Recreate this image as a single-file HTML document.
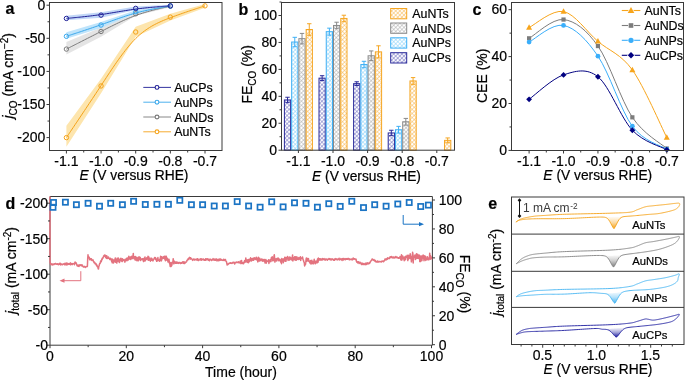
<!DOCTYPE html>
<html><head><meta charset="utf-8"><style>
html,body{margin:0;padding:0;background:#fff;width:685px;height:380px;overflow:hidden}
svg{display:block;font-family:"Liberation Sans", sans-serif;will-change:transform}
text{stroke:#000;stroke-width:0.2px}
</style></head><body>
<svg width="685" height="380" viewBox="0 0 685 380">
<defs>
<pattern id="hatCP" width="2.9" height="2.9" patternUnits="userSpaceOnUse" patternTransform="rotate(45)"><rect width="2.9" height="2.9" fill="#fff"/><path d="M0,0 H2.9 M0,0 V2.9" stroke="#3838a8" stroke-width="1.1" opacity="0.72"/></pattern>
<pattern id="hatNP" width="2.9" height="2.9" patternUnits="userSpaceOnUse" patternTransform="rotate(45)"><rect width="2.9" height="2.9" fill="#fff"/><path d="M0,0 H2.9 M0,0 V2.9" stroke="#55bdf7" stroke-width="1.1" opacity="0.72"/></pattern>
<pattern id="hatND" width="2.9" height="2.9" patternUnits="userSpaceOnUse" patternTransform="rotate(45)"><rect width="2.9" height="2.9" fill="#fff"/><path d="M0,0 H2.9 M0,0 V2.9" stroke="#999" stroke-width="1.1" opacity="0.8"/></pattern>
<pattern id="hatNT" width="2.9" height="2.9" patternUnits="userSpaceOnUse" patternTransform="rotate(45)"><rect width="2.9" height="2.9" fill="#fff"/><path d="M0,0 H2.9 M0,0 V2.9" stroke="#f7b040" stroke-width="1.1" opacity="0.9"/></pattern>
</defs>
<polygon points="66.4,125.68 101.05,78.68 135.7,26.71 170.35,13.81 205,3.88 205,7.85 170.35,20.43 135.7,36.65 101.05,93.25 66.4,146.87" fill="#fde5ad" />
<polygon points="66.4,42.07 101.05,27.38 135.7,11.82 170.35,5.2 170.35,7.19 135.7,15.79 101.05,36.78 66.4,54.59" fill="#e4e4e4" />
<polygon points="66.4,32.14 101.05,22.08 135.7,10.16 170.35,5.2 170.35,6.79 135.7,13.48 101.05,28.04 66.4,38.7" fill="#bfe4fb" />
<polygon points="66.4,15.79 101.05,12.35 135.7,6.39 170.35,4.87 170.35,6.86 135.7,10.03 101.05,17.78 66.4,20.16" fill="#c2d7f7" />
<path d="M66.4,137.6 L66.4,137.6 L66.41,137.59 L66.42,137.57 L66.45,137.53 L66.49,137.47 L66.56,137.37 L66.65,137.23 L66.77,137.05 L66.93,136.82 L67.12,136.52 L67.36,136.17 L67.65,135.74 L67.99,135.24 L68.38,134.65 L68.84,133.97 L69.36,133.19 L69.95,132.31 L70.61,131.33 L71.35,130.22 L72.17,128.99 L73.08,127.64 L74.07,126.16 L75.14,124.57 L76.29,122.86 L77.5,121.05 L78.78,119.15 L80.11,117.15 L81.51,115.06 L82.95,112.9 L84.45,110.66 L85.98,108.35 L87.56,105.98 L89.17,103.56 L90.81,101.09 L92.48,98.58 L94.17,96.02 L95.87,93.44 L97.59,90.84 L99.32,88.21 L101.05,85.58 L102.78,82.94 L104.52,80.29 L106.25,77.66 L107.98,75.03 L109.71,72.41 L111.45,69.82 L113.18,67.25 L114.91,64.72 L116.64,62.21 L118.38,59.75 L120.11,57.34 L121.84,54.97 L123.57,52.67 L125.31,50.42 L127.04,48.24 L128.77,46.13 L130.5,44.1 L132.24,42.15 L133.97,40.29 L135.7,38.52 L137.43,36.85 L139.17,35.27 L140.9,33.78 L142.63,32.37 L144.36,31.04 L146.1,29.79 L147.83,28.61 L149.56,27.5 L151.29,26.45 L153.03,25.45 L154.76,24.51 L156.49,23.62 L158.22,22.78 L159.96,21.97 L161.69,21.2 L163.42,20.46 L165.15,19.74 L166.89,19.05 L168.62,18.38 L170.35,17.72 L172.08,17.07 L173.81,16.43 L175.53,15.81 L177.23,15.19 L178.92,14.59 L180.59,14 L182.23,13.42 L183.84,12.87 L185.42,12.32 L186.95,11.8 L188.45,11.29 L189.89,10.81 L191.29,10.34 L192.62,9.9 L193.9,9.48 L195.11,9.08 L196.26,8.7 L197.33,8.36 L198.32,8.03 L199.23,7.74 L200.05,7.47 L200.79,7.23 L201.45,7.01 L202.04,6.82 L202.56,6.65 L203.02,6.51 L203.41,6.38 L203.75,6.27 L204.04,6.17 L204.28,6.1 L204.47,6.03 L204.63,5.98 L204.75,5.94 L204.84,5.91 L204.91,5.89 L204.95,5.88 L204.98,5.87 L204.99,5.86 L205,5.86 L205,5.86" fill="none" stroke="#f5a31a" stroke-width="1"/>
<circle cx="66.4" cy="137.6" r="2.2" fill="none" stroke="#f5a31a" stroke-width="1"/>
<circle cx="101.05" cy="85.96" r="2.2" fill="none" stroke="#f5a31a" stroke-width="1"/>
<circle cx="135.7" cy="32.01" r="2.2" fill="none" stroke="#f5a31a" stroke-width="1"/>
<circle cx="170.35" cy="17.12" r="2.2" fill="none" stroke="#f5a31a" stroke-width="1"/>
<circle cx="205" cy="5.86" r="2.2" fill="none" stroke="#f5a31a" stroke-width="1"/>
<path d="M66.4,49.09 L66.4,49.09 L66.41,49.09 L66.42,49.08 L66.45,49.07 L66.49,49.04 L66.56,49.01 L66.65,48.96 L66.77,48.9 L66.93,48.82 L67.12,48.72 L67.36,48.6 L67.65,48.46 L67.99,48.28 L68.38,48.08 L68.84,47.85 L69.36,47.59 L69.95,47.29 L70.61,46.95 L71.35,46.57 L72.17,46.16 L73.08,45.69 L74.07,45.19 L75.14,44.65 L76.29,44.07 L77.5,43.45 L78.78,42.8 L80.11,42.12 L81.51,41.41 L82.95,40.68 L84.45,39.92 L85.98,39.14 L87.56,38.33 L89.17,37.52 L90.81,36.68 L92.48,35.83 L94.17,34.97 L95.87,34.11 L97.59,33.23 L99.32,32.35 L101.05,31.47 L102.78,30.59 L104.52,29.71 L106.25,28.83 L107.98,27.95 L109.71,27.08 L111.45,26.22 L113.18,25.36 L114.91,24.52 L116.64,23.68 L118.38,22.85 L120.11,22.04 L121.84,21.24 L123.57,20.45 L125.31,19.68 L127.04,18.93 L128.77,18.2 L130.5,17.49 L132.24,16.8 L133.97,16.13 L135.7,15.48 L137.43,14.86 L139.16,14.27 L140.88,13.7 L142.58,13.15 L144.27,12.63 L145.94,12.13 L147.58,11.66 L149.19,11.2 L150.77,10.77 L152.3,10.37 L153.8,9.98 L155.24,9.62 L156.64,9.28 L157.97,8.96 L159.25,8.66 L160.46,8.38 L161.61,8.12 L162.68,7.88 L163.67,7.66 L164.58,7.46 L165.4,7.28 L166.14,7.12 L166.8,6.97 L167.39,6.84 L167.91,6.73 L168.37,6.63 L168.76,6.54 L169.1,6.47 L169.39,6.4 L169.63,6.35 L169.82,6.31 L169.98,6.27 L170.1,6.25 L170.19,6.23 L170.26,6.21 L170.3,6.2 L170.33,6.2 L170.34,6.19 L170.35,6.19 L170.35,6.19" fill="none" stroke="#7a7a7a" stroke-width="1"/>
<circle cx="66.4" cy="49.09" r="2.2" fill="none" stroke="#7a7a7a" stroke-width="1"/>
<circle cx="101.05" cy="31.48" r="2.2" fill="none" stroke="#7a7a7a" stroke-width="1"/>
<circle cx="135.7" cy="13.81" r="2.2" fill="none" stroke="#7a7a7a" stroke-width="1"/>
<circle cx="170.35" cy="6.19" r="2.2" fill="none" stroke="#7a7a7a" stroke-width="1"/>
<path d="M66.4,36.31 L66.4,36.31 L66.41,36.31 L66.42,36.31 L66.45,36.3 L66.49,36.28 L66.56,36.26 L66.65,36.23 L66.77,36.19 L66.93,36.14 L67.12,36.08 L67.36,36 L67.65,35.91 L67.99,35.8 L68.38,35.67 L68.84,35.52 L69.36,35.35 L69.95,35.16 L70.61,34.95 L71.35,34.71 L72.17,34.44 L73.08,34.14 L74.07,33.82 L75.14,33.47 L76.29,33.1 L77.5,32.7 L78.78,32.29 L80.11,31.85 L81.51,31.39 L82.95,30.91 L84.45,30.41 L85.98,29.9 L87.56,29.37 L89.17,28.83 L90.81,28.27 L92.48,27.7 L94.17,27.13 L95.87,26.54 L97.59,25.94 L99.32,25.34 L101.05,24.73 L102.78,24.11 L104.52,23.5 L106.25,22.87 L107.98,22.25 L109.71,21.63 L111.45,21.01 L113.18,20.39 L114.91,19.77 L116.64,19.16 L118.38,18.55 L120.11,17.95 L121.84,17.36 L123.57,16.78 L125.31,16.21 L127.04,15.65 L128.77,15.1 L130.5,14.56 L132.24,14.04 L133.97,13.54 L135.7,13.06 L137.43,12.59 L139.16,12.14 L140.88,11.71 L142.58,11.3 L144.27,10.9 L145.94,10.52 L147.58,10.16 L149.19,9.82 L150.77,9.49 L152.3,9.18 L153.8,8.89 L155.24,8.61 L156.64,8.35 L157.97,8.11 L159.25,7.88 L160.46,7.67 L161.61,7.47 L162.68,7.29 L163.67,7.12 L164.58,6.97 L165.4,6.83 L166.14,6.7 L166.8,6.59 L167.39,6.49 L167.91,6.4 L168.37,6.33 L168.76,6.26 L169.1,6.2 L169.39,6.16 L169.63,6.12 L169.82,6.08 L169.98,6.06 L170.1,6.04 L170.19,6.02 L170.26,6.01 L170.3,6 L170.33,6 L170.34,6 L170.35,5.99 L170.35,5.99" fill="none" stroke="#3aa8ec" stroke-width="1"/>
<circle cx="66.4" cy="36.31" r="2.2" fill="none" stroke="#3aa8ec" stroke-width="1"/>
<circle cx="101.05" cy="25.06" r="2.2" fill="none" stroke="#3aa8ec" stroke-width="1"/>
<circle cx="135.7" cy="11.82" r="2.2" fill="none" stroke="#3aa8ec" stroke-width="1"/>
<circle cx="170.35" cy="5.99" r="2.2" fill="none" stroke="#3aa8ec" stroke-width="1"/>
<path d="M66.4,18.44 L66.4,18.44 L66.41,18.44 L66.42,18.44 L66.45,18.44 L66.49,18.43 L66.56,18.43 L66.65,18.42 L66.77,18.4 L66.93,18.39 L67.12,18.37 L67.36,18.35 L67.65,18.32 L67.99,18.29 L68.38,18.25 L68.84,18.21 L69.36,18.16 L69.95,18.1 L70.61,18.04 L71.35,17.97 L72.17,17.89 L73.08,17.8 L74.07,17.71 L75.14,17.6 L76.29,17.49 L77.5,17.37 L78.78,17.24 L80.11,17.11 L81.51,16.96 L82.95,16.81 L84.45,16.64 L85.98,16.47 L87.56,16.29 L89.17,16.11 L90.81,15.91 L92.48,15.71 L94.17,15.49 L95.87,15.27 L97.59,15.04 L99.32,14.8 L101.05,14.56 L102.78,14.3 L104.52,14.04 L106.25,13.77 L107.98,13.49 L109.71,13.21 L111.45,12.93 L113.18,12.64 L114.91,12.35 L116.64,12.06 L118.38,11.77 L120.11,11.48 L121.84,11.19 L123.57,10.91 L125.31,10.63 L127.04,10.35 L128.77,10.09 L130.5,9.82 L132.24,9.57 L133.97,9.32 L135.7,9.08 L137.43,8.86 L139.16,8.64 L140.88,8.44 L142.58,8.24 L144.27,8.05 L145.94,7.88 L147.58,7.71 L149.19,7.55 L150.77,7.4 L152.3,7.26 L153.8,7.13 L155.24,7 L156.64,6.89 L157.97,6.78 L159.25,6.68 L160.46,6.59 L161.61,6.5 L162.68,6.42 L163.67,6.35 L164.58,6.28 L165.4,6.22 L166.14,6.17 L166.8,6.12 L167.39,6.08 L167.91,6.04 L168.37,6.01 L168.76,5.98 L169.1,5.95 L169.39,5.93 L169.63,5.91 L169.82,5.9 L169.98,5.89 L170.1,5.88 L170.19,5.87 L170.26,5.87 L170.3,5.87 L170.33,5.86 L170.34,5.86 L170.35,5.86 L170.35,5.86" fill="none" stroke="#1e1e96" stroke-width="1"/>
<circle cx="66.4" cy="18.44" r="2.2" fill="none" stroke="#1e1e96" stroke-width="1"/>
<circle cx="101.05" cy="15.13" r="2.2" fill="none" stroke="#1e1e96" stroke-width="1"/>
<circle cx="135.7" cy="8.38" r="2.2" fill="none" stroke="#1e1e96" stroke-width="1"/>
<circle cx="170.35" cy="5.86" r="2.2" fill="none" stroke="#1e1e96" stroke-width="1"/>
<rect x="49.5" y="2.5" width="172.5" height="148" fill="none" stroke="#3a3a3a" stroke-width="1"/>
<line x1="46.5" y1="5.2" x2="49.5" y2="5.2" stroke="#3a3a3a"/>
<text x="45.4" y="9.9" font-size="14" text-anchor="end" font-weight="normal" fill="#000" >0</text>
<line x1="46.5" y1="38.3" x2="49.5" y2="38.3" stroke="#3a3a3a"/>
<text x="45.4" y="43" font-size="14" text-anchor="end" font-weight="normal" fill="#000" >-50</text>
<line x1="46.5" y1="71.4" x2="49.5" y2="71.4" stroke="#3a3a3a"/>
<text x="45.4" y="76.1" font-size="14" text-anchor="end" font-weight="normal" fill="#000" >-100</text>
<line x1="46.5" y1="104.5" x2="49.5" y2="104.5" stroke="#3a3a3a"/>
<text x="45.4" y="109.2" font-size="14" text-anchor="end" font-weight="normal" fill="#000" >-150</text>
<line x1="46.5" y1="137.6" x2="49.5" y2="137.6" stroke="#3a3a3a"/>
<text x="45.4" y="142.3" font-size="14" text-anchor="end" font-weight="normal" fill="#000" >-200</text>
<line x1="47.5" y1="21.75" x2="49.5" y2="21.75" stroke="#3a3a3a"/>
<line x1="47.5" y1="54.85" x2="49.5" y2="54.85" stroke="#3a3a3a"/>
<line x1="47.5" y1="87.95" x2="49.5" y2="87.95" stroke="#3a3a3a"/>
<line x1="47.5" y1="121.05" x2="49.5" y2="121.05" stroke="#3a3a3a"/>
<line x1="66.4" y1="150.5" x2="66.4" y2="153.5" stroke="#3a3a3a"/>
<text x="66.4" y="166.4" font-size="14" text-anchor="middle" font-weight="normal" fill="#000" >-1.1</text>
<line x1="101.05" y1="150.5" x2="101.05" y2="153.5" stroke="#3a3a3a"/>
<text x="101.05" y="166.4" font-size="14" text-anchor="middle" font-weight="normal" fill="#000" >-1.0</text>
<line x1="135.7" y1="150.5" x2="135.7" y2="153.5" stroke="#3a3a3a"/>
<text x="135.7" y="166.4" font-size="14" text-anchor="middle" font-weight="normal" fill="#000" >-0.9</text>
<line x1="170.35" y1="150.5" x2="170.35" y2="153.5" stroke="#3a3a3a"/>
<text x="170.35" y="166.4" font-size="14" text-anchor="middle" font-weight="normal" fill="#000" >-0.8</text>
<line x1="205" y1="150.5" x2="205" y2="153.5" stroke="#3a3a3a"/>
<text x="205" y="166.4" font-size="14" text-anchor="middle" font-weight="normal" fill="#000" >-0.7</text>
<line x1="83.73" y1="150.5" x2="83.73" y2="152.5" stroke="#3a3a3a"/>
<line x1="118.38" y1="150.5" x2="118.38" y2="152.5" stroke="#3a3a3a"/>
<line x1="153.03" y1="150.5" x2="153.03" y2="152.5" stroke="#3a3a3a"/>
<line x1="187.68" y1="150.5" x2="187.68" y2="152.5" stroke="#3a3a3a"/>
<text x="134" y="180.4" font-size="13.8" text-anchor="middle" font-weight="normal" fill="#000" ><tspan font-style="italic">E</tspan> (V versus RHE)</text>
<text transform="translate(12.9,75.8) rotate(-90)" font-size="14" text-anchor="middle"><tspan font-style="italic">j</tspan><tspan font-size="10" dy="3.8">CO</tspan><tspan dy="-3.8"> (mA cm</tspan><tspan font-size="10" dy="-5">−2</tspan><tspan dy="5">)</tspan></text>
<text x="5.5" y="14.2" font-size="16" text-anchor="start" font-weight="bold" fill="#000" >a</text>
<line x1="143.3" y1="87.4" x2="171" y2="87.4" stroke="#1e1e96" stroke-width="0.9"/>
<circle cx="157" cy="87.4" r="1.9" fill="#fff" stroke="#1e1e96" stroke-width="1.1"/>
<text x="174.2" y="91.9" font-size="12.4" text-anchor="start" font-weight="normal" fill="#000" >AuCPs</text>
<line x1="143.3" y1="102.2" x2="171" y2="102.2" stroke="#3aa8ec" stroke-width="0.9"/>
<circle cx="157" cy="102.2" r="1.9" fill="#fff" stroke="#3aa8ec" stroke-width="1.1"/>
<text x="174.2" y="106.7" font-size="12.4" text-anchor="start" font-weight="normal" fill="#000" >AuNPs</text>
<line x1="143.3" y1="117" x2="171" y2="117" stroke="#7a7a7a" stroke-width="0.9"/>
<circle cx="157" cy="117" r="1.9" fill="#fff" stroke="#7a7a7a" stroke-width="1.1"/>
<text x="174.2" y="121.5" font-size="12.4" text-anchor="start" font-weight="normal" fill="#000" >AuNDs</text>
<line x1="143.3" y1="131.8" x2="171" y2="131.8" stroke="#f5a31a" stroke-width="0.9"/>
<circle cx="157" cy="131.8" r="1.9" fill="#fff" stroke="#f5a31a" stroke-width="1.1"/>
<text x="174.2" y="136.3" font-size="12.4" text-anchor="start" font-weight="normal" fill="#000" >AuNTs</text>
<rect x="284.4" y="99.96" width="6.25" height="50.24" fill="url(#hatCP)" stroke="#2a2a9a" stroke-width="1"/>
<line x1="287.52" y1="97.26" x2="287.52" y2="102.65" stroke="#2a2a9a" stroke-width="1"/>
<line x1="285.32" y1="97.26" x2="289.72" y2="97.26" stroke="#2a2a9a" stroke-width="1"/>
<line x1="285.32" y1="102.65" x2="289.72" y2="102.65" stroke="#2a2a9a" stroke-width="1"/>
<rect x="291.65" y="42.04" width="6.25" height="108.16" fill="url(#hatNP)" stroke="#3fb0f5" stroke-width="1"/>
<line x1="294.77" y1="37.32" x2="294.77" y2="46.75" stroke="#3fb0f5" stroke-width="1"/>
<line x1="292.57" y1="37.32" x2="296.97" y2="37.32" stroke="#3fb0f5" stroke-width="1"/>
<line x1="292.57" y1="46.75" x2="296.97" y2="46.75" stroke="#3fb0f5" stroke-width="1"/>
<rect x="298.9" y="38.67" width="6.25" height="111.53" fill="url(#hatND)" stroke="#8a8a8a" stroke-width="1"/>
<line x1="302.02" y1="33.42" x2="302.02" y2="43.92" stroke="#8a8a8a" stroke-width="1"/>
<line x1="299.82" y1="33.42" x2="304.22" y2="33.42" stroke="#8a8a8a" stroke-width="1"/>
<line x1="299.82" y1="43.92" x2="304.22" y2="43.92" stroke="#8a8a8a" stroke-width="1"/>
<rect x="306.15" y="29.51" width="6.25" height="120.69" fill="url(#hatNT)" stroke="#f5a623" stroke-width="1"/>
<line x1="309.27" y1="23.72" x2="309.27" y2="35.3" stroke="#f5a623" stroke-width="1"/>
<line x1="307.07" y1="23.72" x2="311.47" y2="23.72" stroke="#f5a623" stroke-width="1"/>
<line x1="307.07" y1="35.3" x2="311.47" y2="35.3" stroke="#f5a623" stroke-width="1"/>
<rect x="319" y="78.14" width="6.25" height="72.06" fill="url(#hatCP)" stroke="#2a2a9a" stroke-width="1"/>
<line x1="322.12" y1="75.71" x2="322.12" y2="80.56" stroke="#2a2a9a" stroke-width="1"/>
<line x1="319.93" y1="75.71" x2="324.32" y2="75.71" stroke="#2a2a9a" stroke-width="1"/>
<line x1="319.93" y1="80.56" x2="324.32" y2="80.56" stroke="#2a2a9a" stroke-width="1"/>
<rect x="326.25" y="31.66" width="6.25" height="118.54" fill="url(#hatNP)" stroke="#3fb0f5" stroke-width="1"/>
<line x1="329.38" y1="28.16" x2="329.38" y2="35.17" stroke="#3fb0f5" stroke-width="1"/>
<line x1="327.18" y1="28.16" x2="331.57" y2="28.16" stroke="#3fb0f5" stroke-width="1"/>
<line x1="327.18" y1="35.17" x2="331.57" y2="35.17" stroke="#3fb0f5" stroke-width="1"/>
<rect x="333.5" y="25.47" width="6.25" height="124.73" fill="url(#hatND)" stroke="#8a8a8a" stroke-width="1"/>
<line x1="336.62" y1="22.23" x2="336.62" y2="28.7" stroke="#8a8a8a" stroke-width="1"/>
<line x1="334.43" y1="22.23" x2="338.82" y2="22.23" stroke="#8a8a8a" stroke-width="1"/>
<line x1="334.43" y1="28.7" x2="338.82" y2="28.7" stroke="#8a8a8a" stroke-width="1"/>
<rect x="340.75" y="18.46" width="6.25" height="131.74" fill="url(#hatNT)" stroke="#f5a623" stroke-width="1"/>
<line x1="343.88" y1="15.23" x2="343.88" y2="21.7" stroke="#f5a623" stroke-width="1"/>
<line x1="341.68" y1="15.23" x2="346.07" y2="15.23" stroke="#f5a623" stroke-width="1"/>
<line x1="341.68" y1="21.7" x2="346.07" y2="21.7" stroke="#f5a623" stroke-width="1"/>
<rect x="353.6" y="83.66" width="6.25" height="66.54" fill="url(#hatCP)" stroke="#2a2a9a" stroke-width="1"/>
<line x1="356.73" y1="81.77" x2="356.73" y2="85.54" stroke="#2a2a9a" stroke-width="1"/>
<line x1="354.53" y1="81.77" x2="358.93" y2="81.77" stroke="#2a2a9a" stroke-width="1"/>
<line x1="354.53" y1="85.54" x2="358.93" y2="85.54" stroke="#2a2a9a" stroke-width="1"/>
<rect x="360.85" y="64.53" width="6.25" height="85.67" fill="url(#hatNP)" stroke="#3fb0f5" stroke-width="1"/>
<line x1="363.98" y1="61.3" x2="363.98" y2="67.76" stroke="#3fb0f5" stroke-width="1"/>
<line x1="361.78" y1="61.3" x2="366.18" y2="61.3" stroke="#3fb0f5" stroke-width="1"/>
<line x1="361.78" y1="67.76" x2="366.18" y2="67.76" stroke="#3fb0f5" stroke-width="1"/>
<rect x="368.1" y="55.78" width="6.25" height="94.42" fill="url(#hatND)" stroke="#8a8a8a" stroke-width="1"/>
<line x1="371.23" y1="50.93" x2="371.23" y2="60.62" stroke="#8a8a8a" stroke-width="1"/>
<line x1="369.03" y1="50.93" x2="373.43" y2="50.93" stroke="#8a8a8a" stroke-width="1"/>
<line x1="369.03" y1="60.62" x2="373.43" y2="60.62" stroke="#8a8a8a" stroke-width="1"/>
<rect x="375.35" y="51.87" width="6.25" height="98.33" fill="url(#hatNT)" stroke="#f5a623" stroke-width="1"/>
<line x1="378.48" y1="45.81" x2="378.48" y2="57.93" stroke="#f5a623" stroke-width="1"/>
<line x1="376.28" y1="45.81" x2="380.68" y2="45.81" stroke="#f5a623" stroke-width="1"/>
<line x1="376.28" y1="57.93" x2="380.68" y2="57.93" stroke="#f5a623" stroke-width="1"/>
<rect x="388.2" y="132.96" width="6.25" height="17.24" fill="url(#hatCP)" stroke="#2a2a9a" stroke-width="1"/>
<line x1="391.32" y1="130.26" x2="391.32" y2="135.65" stroke="#2a2a9a" stroke-width="1"/>
<line x1="389.12" y1="130.26" x2="393.52" y2="130.26" stroke="#2a2a9a" stroke-width="1"/>
<line x1="389.12" y1="135.65" x2="393.52" y2="135.65" stroke="#2a2a9a" stroke-width="1"/>
<rect x="395.45" y="129.73" width="6.25" height="20.47" fill="url(#hatNP)" stroke="#3fb0f5" stroke-width="1"/>
<line x1="398.57" y1="126.36" x2="398.57" y2="133.09" stroke="#3fb0f5" stroke-width="1"/>
<line x1="396.38" y1="126.36" x2="400.77" y2="126.36" stroke="#3fb0f5" stroke-width="1"/>
<line x1="396.38" y1="133.09" x2="400.77" y2="133.09" stroke="#3fb0f5" stroke-width="1"/>
<rect x="402.7" y="121.78" width="6.25" height="28.42" fill="url(#hatND)" stroke="#8a8a8a" stroke-width="1"/>
<line x1="405.82" y1="118.41" x2="405.82" y2="125.15" stroke="#8a8a8a" stroke-width="1"/>
<line x1="403.62" y1="118.41" x2="408.02" y2="118.41" stroke="#8a8a8a" stroke-width="1"/>
<line x1="403.62" y1="125.15" x2="408.02" y2="125.15" stroke="#8a8a8a" stroke-width="1"/>
<rect x="409.95" y="80.96" width="6.25" height="69.24" fill="url(#hatNT)" stroke="#f5a623" stroke-width="1"/>
<line x1="413.07" y1="77.6" x2="413.07" y2="84.33" stroke="#f5a623" stroke-width="1"/>
<line x1="410.88" y1="77.6" x2="415.27" y2="77.6" stroke="#f5a623" stroke-width="1"/>
<line x1="410.88" y1="84.33" x2="415.27" y2="84.33" stroke="#f5a623" stroke-width="1"/>
<rect x="444.55" y="140.37" width="6.25" height="9.83" fill="url(#hatNT)" stroke="#f5a623" stroke-width="1"/>
<line x1="447.68" y1="137.94" x2="447.68" y2="142.79" stroke="#f5a623" stroke-width="1"/>
<line x1="445.48" y1="137.94" x2="449.88" y2="137.94" stroke="#f5a623" stroke-width="1"/>
<line x1="445.48" y1="142.79" x2="449.88" y2="142.79" stroke="#f5a623" stroke-width="1"/>
<rect x="281.5" y="2.5" width="173" height="147.7" fill="none" stroke="#3a3a3a" stroke-width="1"/>
<line x1="278.5" y1="150.2" x2="281.5" y2="150.2" stroke="#3a3a3a"/>
<text x="277.1" y="154.8" font-size="14" text-anchor="end" font-weight="normal" fill="#000" >0</text>
<line x1="278.5" y1="123.26" x2="281.5" y2="123.26" stroke="#3a3a3a"/>
<text x="277.1" y="127.86" font-size="14" text-anchor="end" font-weight="normal" fill="#000" >20</text>
<line x1="278.5" y1="96.32" x2="281.5" y2="96.32" stroke="#3a3a3a"/>
<text x="277.1" y="100.92" font-size="14" text-anchor="end" font-weight="normal" fill="#000" >40</text>
<line x1="278.5" y1="69.38" x2="281.5" y2="69.38" stroke="#3a3a3a"/>
<text x="277.1" y="73.98" font-size="14" text-anchor="end" font-weight="normal" fill="#000" >60</text>
<line x1="278.5" y1="42.44" x2="281.5" y2="42.44" stroke="#3a3a3a"/>
<text x="277.1" y="47.04" font-size="14" text-anchor="end" font-weight="normal" fill="#000" >80</text>
<line x1="278.5" y1="15.5" x2="281.5" y2="15.5" stroke="#3a3a3a"/>
<text x="277.1" y="20.1" font-size="14" text-anchor="end" font-weight="normal" fill="#000" >100</text>
<line x1="279.5" y1="136.73" x2="281.5" y2="136.73" stroke="#3a3a3a"/>
<line x1="279.5" y1="109.79" x2="281.5" y2="109.79" stroke="#3a3a3a"/>
<line x1="279.5" y1="82.85" x2="281.5" y2="82.85" stroke="#3a3a3a"/>
<line x1="279.5" y1="55.91" x2="281.5" y2="55.91" stroke="#3a3a3a"/>
<line x1="279.5" y1="28.97" x2="281.5" y2="28.97" stroke="#3a3a3a"/>
<line x1="279.5" y1="2.03" x2="281.5" y2="2.03" stroke="#3a3a3a"/>
<line x1="298.4" y1="150.2" x2="298.4" y2="153" stroke="#3a3a3a"/>
<text x="298.4" y="166.2" font-size="14" text-anchor="middle" font-weight="normal" fill="#000" >-1.1</text>
<line x1="333" y1="150.2" x2="333" y2="153" stroke="#3a3a3a"/>
<text x="333" y="166.2" font-size="14" text-anchor="middle" font-weight="normal" fill="#000" >-1.0</text>
<line x1="367.6" y1="150.2" x2="367.6" y2="153" stroke="#3a3a3a"/>
<text x="367.6" y="166.2" font-size="14" text-anchor="middle" font-weight="normal" fill="#000" >-0.9</text>
<line x1="402.2" y1="150.2" x2="402.2" y2="153" stroke="#3a3a3a"/>
<text x="402.2" y="166.2" font-size="14" text-anchor="middle" font-weight="normal" fill="#000" >-0.8</text>
<line x1="436.8" y1="150.2" x2="436.8" y2="153" stroke="#3a3a3a"/>
<text x="436.8" y="166.2" font-size="14" text-anchor="middle" font-weight="normal" fill="#000" >-0.7</text>
<text x="366.5" y="181.3" font-size="13.8" text-anchor="middle" font-weight="normal" fill="#000" ><tspan font-style="italic">E</tspan> (V versus RHE)</text>
<text transform="translate(251.8,74.3) rotate(-90)" font-size="14" text-anchor="middle">FE<tspan font-size="10" dy="3.8">CO</tspan><tspan dy="-3.8"> (%)</tspan></text>
<text x="238.5" y="14.5" font-size="16" text-anchor="start" font-weight="bold" fill="#000" >b</text>
<rect x="390.7" y="8.5" width="16" height="10.3" fill="url(#hatNT)" stroke="#f5a623" stroke-width="1"/>
<text x="412.3" y="18" font-size="12.4" text-anchor="start" font-weight="normal" fill="#000" >AuNTs</text>
<rect x="390.7" y="23" width="16" height="10.3" fill="url(#hatND)" stroke="#8a8a8a" stroke-width="1"/>
<text x="412.3" y="32.5" font-size="12.4" text-anchor="start" font-weight="normal" fill="#000" >AuNDs</text>
<rect x="390.7" y="37.8" width="16" height="10.3" fill="url(#hatNP)" stroke="#3fb0f5" stroke-width="1"/>
<text x="412.3" y="47.3" font-size="12.4" text-anchor="start" font-weight="normal" fill="#000" >AuNPs</text>
<rect x="390.7" y="52.7" width="16" height="10.3" fill="url(#hatCP)" stroke="#2a2a9a" stroke-width="1"/>
<text x="412.3" y="62.2" font-size="12.4" text-anchor="start" font-weight="normal" fill="#000" >AuCPs</text>
<path d="M529.1,27.52 C534.84,24.86 552.05,9.27 563.52,11.58 C574.99,13.88 586.47,31.63 597.94,41.36 C609.41,51.09 620.89,53.94 632.36,69.97 C643.83,85.99 661.04,126.25 666.78,137.5" fill="none" stroke="#f7a51c" stroke-width="1"/>
<path d="M529.1,38.31 C534.84,35.18 552.05,18.26 563.52,19.55 C574.99,20.84 586.47,29.75 597.94,46.05 C609.41,62.35 620.89,100.26 632.36,117.34 C643.83,134.41 661.04,143.33 666.78,148.52" fill="none" stroke="#7c7c7c" stroke-width="1"/>
<path d="M529.1,42.06 C534.84,39.29 552.05,23.07 563.52,25.41 C574.99,27.76 586.47,39.33 597.94,56.13 C609.41,72.94 620.89,110.73 632.36,126.25 C643.83,141.76 661.04,145.4 666.78,149.23" fill="none" stroke="#3aaefa" stroke-width="1"/>
<path d="M529.1,99.28 C534.84,95.21 552.05,78.64 563.52,74.89 C574.99,71.14 586.47,67.54 597.94,76.77 C609.41,85.99 620.89,118.08 632.36,130.23 C643.83,142.39 661.04,146.45 666.78,149.7" fill="none" stroke="#000080" stroke-width="1"/>
<polygon points="529.1,24.28 532.1,29.68 526.1,29.68" fill="#f7a51c"/>
<polygon points="563.52,8.34 566.52,13.74 560.52,13.74" fill="#f7a51c"/>
<polygon points="597.94,38.12 600.94,43.52 594.94,43.52" fill="#f7a51c"/>
<polygon points="632.36,66.73 635.36,72.13 629.36,72.13" fill="#f7a51c"/>
<polygon points="666.78,134.26 669.78,139.66 663.78,139.66" fill="#f7a51c"/>
<rect x="527" y="36.21" width="4.2" height="4.2" fill="#7c7c7c"/>
<rect x="561.42" y="17.45" width="4.2" height="4.2" fill="#7c7c7c"/>
<rect x="595.84" y="43.95" width="4.2" height="4.2" fill="#7c7c7c"/>
<rect x="630.26" y="115.24" width="4.2" height="4.2" fill="#7c7c7c"/>
<rect x="664.68" y="146.42" width="4.2" height="4.2" fill="#7c7c7c"/>
<circle cx="529.1" cy="42.06" r="2.4" fill="#3aaefa"/>
<circle cx="563.52" cy="25.41" r="2.4" fill="#3aaefa"/>
<circle cx="597.94" cy="56.13" r="2.4" fill="#3aaefa"/>
<circle cx="632.36" cy="126.25" r="2.4" fill="#3aaefa"/>
<circle cx="666.78" cy="149.23" r="2.4" fill="#3aaefa"/>
<polygon points="529.1,96.38 532,99.28 529.1,102.18 526.2,99.28" fill="#000080"/>
<polygon points="563.52,71.99 566.42,74.89 563.52,77.79 560.62,74.89" fill="#000080"/>
<polygon points="597.94,73.87 600.84,76.77 597.94,79.67 595.04,76.77" fill="#000080"/>
<polygon points="632.36,127.33 635.26,130.23 632.36,133.13 629.46,130.23" fill="#000080"/>
<polygon points="666.78,146.8 669.68,149.7 666.78,152.6 663.88,149.7" fill="#000080"/>
<rect x="511.5" y="2.5" width="172" height="148" fill="none" stroke="#3a3a3a" stroke-width="1"/>
<line x1="508.5" y1="150.4" x2="511.5" y2="150.4" stroke="#3a3a3a"/>
<text x="507.1" y="155.1" font-size="14" text-anchor="end" font-weight="normal" fill="#000" >0</text>
<line x1="508.5" y1="103.5" x2="511.5" y2="103.5" stroke="#3a3a3a"/>
<text x="507.1" y="108.2" font-size="14" text-anchor="end" font-weight="normal" fill="#000" >20</text>
<line x1="508.5" y1="56.6" x2="511.5" y2="56.6" stroke="#3a3a3a"/>
<text x="507.1" y="61.3" font-size="14" text-anchor="end" font-weight="normal" fill="#000" >40</text>
<line x1="508.5" y1="9.7" x2="511.5" y2="9.7" stroke="#3a3a3a"/>
<text x="507.1" y="14.4" font-size="14" text-anchor="end" font-weight="normal" fill="#000" >60</text>
<line x1="509.5" y1="126.95" x2="511.5" y2="126.95" stroke="#3a3a3a"/>
<line x1="509.5" y1="80.05" x2="511.5" y2="80.05" stroke="#3a3a3a"/>
<line x1="509.5" y1="33.15" x2="511.5" y2="33.15" stroke="#3a3a3a"/>
<line x1="529.1" y1="150.5" x2="529.1" y2="153.5" stroke="#3a3a3a"/>
<text x="529.1" y="166.4" font-size="14" text-anchor="middle" font-weight="normal" fill="#000" >-1.1</text>
<line x1="563.52" y1="150.5" x2="563.52" y2="153.5" stroke="#3a3a3a"/>
<text x="563.52" y="166.4" font-size="14" text-anchor="middle" font-weight="normal" fill="#000" >-1.0</text>
<line x1="597.94" y1="150.5" x2="597.94" y2="153.5" stroke="#3a3a3a"/>
<text x="597.94" y="166.4" font-size="14" text-anchor="middle" font-weight="normal" fill="#000" >-0.9</text>
<line x1="632.36" y1="150.5" x2="632.36" y2="153.5" stroke="#3a3a3a"/>
<text x="632.36" y="166.4" font-size="14" text-anchor="middle" font-weight="normal" fill="#000" >-0.8</text>
<line x1="666.78" y1="150.5" x2="666.78" y2="153.5" stroke="#3a3a3a"/>
<text x="666.78" y="166.4" font-size="14" text-anchor="middle" font-weight="normal" fill="#000" >-0.7</text>
<line x1="546.31" y1="150.5" x2="546.31" y2="152.5" stroke="#3a3a3a"/>
<line x1="580.73" y1="150.5" x2="580.73" y2="152.5" stroke="#3a3a3a"/>
<line x1="615.15" y1="150.5" x2="615.15" y2="152.5" stroke="#3a3a3a"/>
<line x1="649.57" y1="150.5" x2="649.57" y2="152.5" stroke="#3a3a3a"/>
<text x="597.8" y="180.4" font-size="13.8" text-anchor="middle" font-weight="normal" fill="#000" ><tspan font-style="italic">E</tspan> (V versus RHE)</text>
<text transform="translate(486.6,75.8) rotate(-90)" font-size="14" text-anchor="middle">CEE (%)</text>
<text x="472.5" y="14.5" font-size="16" text-anchor="start" font-weight="bold" fill="#000" >c</text>
<line x1="621.8" y1="10.5" x2="640.3" y2="10.5" stroke="#f7a51c" stroke-width="1.1"/>
<polygon points="631,6.94 634.3,12.88 627.7,12.88" fill="#f7a51c" stroke="#fff" stroke-width="1.2" paint-order="stroke"/>
<text x="644.5" y="15" font-size="12.4" text-anchor="start" font-weight="normal" fill="#000" >AuNTs</text>
<line x1="621.8" y1="25.5" x2="640.3" y2="25.5" stroke="#7c7c7c" stroke-width="1.1"/>
<rect x="628.69" y="23.19" width="4.62" height="4.62" fill="#7c7c7c" stroke="#fff" stroke-width="1.2" paint-order="stroke"/>
<text x="644.5" y="30" font-size="12.4" text-anchor="start" font-weight="normal" fill="#000" >AuNDs</text>
<line x1="621.8" y1="40.3" x2="640.3" y2="40.3" stroke="#3aaefa" stroke-width="1.1"/>
<circle cx="631" cy="40.3" r="2.64" fill="#3aaefa" stroke="#fff" stroke-width="1.2" paint-order="stroke"/>
<text x="644.5" y="44.8" font-size="12.4" text-anchor="start" font-weight="normal" fill="#000" >AuNPs</text>
<line x1="621.8" y1="55.3" x2="640.3" y2="55.3" stroke="#000080" stroke-width="1.1"/>
<polygon points="631,52.11 634.19,55.3 631,58.49 627.81,55.3" fill="#000080" stroke="#fff" stroke-width="1.2" paint-order="stroke"/>
<text x="644.5" y="59.8" font-size="12.4" text-anchor="start" font-weight="normal" fill="#000" >AuCPs</text>
<path d="M50,196.5 H432.4 V345.2 H50 Z" fill="none" stroke="#3a3a3a" stroke-width="1"/>
<path d="M50,196.6 L50,262 L50.5,264 L50.5,264.04 L50.8,264.58 L51.1,263.61 L51.4,264.48 L51.7,263.93 L52,263.95 L52.3,264.93 L52.6,264.16 L52.9,264.08 L53.2,264.44 L53.5,264.63 L53.8,264.13 L54.1,264.42 L54.4,263.73 L54.7,264.01 L55,263.99 L55.3,263.6 L55.6,263.54 L55.9,263.5 L56.2,264.13 L56.5,264.18 L56.8,264.12 L57.1,264.31 L57.4,263.69 L57.7,264.27 L58,264.42 L58.3,264.67 L58.6,263.96 L58.9,264.17 L59.2,263.46 L59.5,264.15 L59.8,263.4 L60.1,263.76 L60.4,264.88 L60.7,263.38 L61,264.72 L61.3,264.5 L61.6,264.2 L61.9,264.53 L62.2,264.55 L62.5,264.77 L62.8,264.18 L63.1,264.01 L63.4,263.99 L63.7,263.81 L64,264.22 L64.3,263.87 L64.6,264.7 L64.9,263.36 L65.2,263.7 L65.5,263.75 L65.8,263.23 L66.1,265.01 L66.4,263.06 L66.7,264 L67,263.88 L67.3,264.85 L67.6,263.2 L67.9,264.57 L68.2,263.74 L68.5,263.99 L68.8,263.75 L69.1,264.32 L69.4,263.51 L69.7,263.98 L70,264.16 L70.3,264.81 L70.6,262.88 L70.9,264.63 L71.2,264.35 L71.5,263.69 L71.8,264.03 L72.1,263.66 L72.4,264.6 L72.7,263.93 L73,263.72 L73.3,263.7 L73.6,263.69 L73.9,263.69 L74.2,263.35 L74.5,264.66 L74.8,262.85 L75.1,261.96 L75.4,263.16 L75.7,262.79 L76,262.67 L76.3,263.28 L76.6,264.17 L76.9,265.26 L77.2,265.84 L77.5,265.2 L77.8,265.23 L78.1,266.27 L78.4,265.64 L78.7,264.96 L79,266.45 L79.3,265.75 L79.6,265.13 L79.9,264.87 L80.2,265.53 L80.5,265.03 L80.8,264.92 L81.1,264.82 L81.4,265.17 L81.7,265.9 L82,265.2 L82.3,264.97 L82.6,266.15 L82.9,266.1 L83.2,266.68 L83.5,267.07 L83.8,266.67 L84.1,266.83 L84.4,266.88 L84.7,266.39 L85,267.2 L85.3,267.52 L85.6,266.98 L85.9,266.79 L86.2,266.78 L86.5,266.55 L86.8,266.54 L87.1,266.62 L87.4,266.31 L87.7,258.86 L88,254.78 L88.3,257 L88.6,257.67 L88.9,257.7 L89.2,257.24 L89.5,258.93 L89.8,259.79 L90.1,258.58 L90.4,258.84 L90.7,258.86 L91,259.79 L91.3,258.77 L91.6,260.18 L91.9,259.36 L92.2,260.51 L92.5,260.27 L92.8,260.48 L93.1,260 L93.4,260.94 L93.7,261.63 L94,262.66 L94.3,262.64 L94.6,262.25 L94.9,263.3 L95.2,263.97 L95.5,263.45 L95.8,263.51 L96.1,263.91 L96.4,265.29 L96.7,265.65 L97,265.16 L97.3,266.62 L97.6,266.56 L97.9,266.87 L98.2,268.77 L98.5,268.97 L98.8,266.51 L99.1,265.68 L99.4,264.86 L99.7,263.49 L100,263.29 L100.3,263.27 L100.6,260.98 L100.9,261.9 L101.2,261.62 L101.5,260.85 L101.8,258.96 L102.1,259.52 L102.4,258.1 L102.7,258.5 L103,257.92 L103.3,257.05 L103.6,255.95 L103.9,255.76 L104.2,256.45 L104.5,254.91 L104.8,255.56 L105.1,255.26 L105.4,255.16 L105.7,257.49 L106,256.32 L106.3,258.23 L106.6,255.78 L106.9,256.08 L107.2,258.56 L107.5,258.43 L107.8,257.87 L108.1,258.17 L108.4,256.98 L108.7,257.98 L109,257.81 L109.3,258.49 L109.6,259.37 L109.9,258.9 L110.2,259.51 L110.5,258.32 L110.8,258.86 L111.1,259.77 L111.4,259.45 L111.7,261.66 L112,259.07 L112.3,262.87 L112.6,259.33 L112.9,262.18 L113.2,259.77 L113.5,262.9 L113.8,260.91 L114.1,261.23 L114.4,261.66 L114.7,259.85 L115,259.3 L115.3,258 L115.6,262.2 L115.9,259.68 L116.2,259.8 L116.5,260.51 L116.8,263.11 L117.1,258.26 L117.4,260.81 L117.7,259.95 L118,261.13 L118.3,258.08 L118.6,259.88 L118.9,261.47 L119.2,262.38 L119.5,262.41 L119.8,259.2 L120.1,260.36 L120.4,260.1 L120.7,258.41 L121,258.29 L121.3,261.1 L121.6,260.4 L121.9,259.85 L122.2,261.57 L122.5,258.65 L122.8,260.59 L123.1,259.88 L123.4,259.75 L123.7,260.42 L124,259.97 L124.3,260.04 L124.6,260 L124.9,262.13 L125.2,259.16 L125.5,260.82 L125.8,260.24 L126.1,258.94 L126.4,260.37 L126.7,258.17 L127,260.73 L127.3,258.12 L127.6,258.48 L127.9,259.48 L128.2,260.08 L128.5,257.48 L128.8,256.33 L129.1,256.9 L129.4,257.23 L129.7,259.12 L130,258.73 L130.3,257.03 L130.6,259.46 L130.9,258.38 L131.2,256.84 L131.5,258.65 L131.8,256.33 L132.1,256.9 L132.4,258.55 L132.7,255.98 L133,256.3 L133.3,253.41 L133.6,258.12 L133.9,257.57 L134.2,258.81 L134.5,256.67 L134.8,258.23 L135.1,259.97 L135.4,259.39 L135.7,256.46 L136,260.1 L136.3,260.07 L136.6,258.43 L136.9,260.77 L137.2,257.56 L137.5,258.84 L137.8,260.41 L138.1,260.67 L138.4,260.64 L138.7,257.57 L139,256.69 L139.3,259.52 L139.6,257.16 L139.9,258.86 L140.2,257.37 L140.5,260.43 L140.8,260.1 L141.1,259.79 L141.4,259.1 L141.7,259.15 L142,258.71 L142.3,259.61 L142.6,259.44 L142.9,259.73 L143.2,258.58 L143.5,261.62 L143.8,259.53 L144.1,260.98 L144.4,260.91 L144.7,258.05 L145,257.01 L145.3,260.84 L145.6,258.71 L145.9,259.33 L146.2,258.9 L146.5,259.41 L146.8,257.7 L147.1,259.12 L147.4,258.66 L147.7,259.25 L148,256.24 L148.3,260.36 L148.6,259.73 L148.9,257.06 L149.2,258.36 L149.5,259.36 L149.8,260.15 L150.1,259.34 L150.4,261.14 L150.7,259.38 L151,258.06 L151.3,258.49 L151.6,260.34 L151.9,258.59 L152.2,260.49 L152.5,260.73 L152.8,260.17 L153.1,260.74 L153.4,259.2 L153.7,259.42 L154,258.67 L154.3,258.65 L154.6,257.42 L154.9,258.74 L155.2,258.08 L155.5,257.62 L155.8,259.68 L156.1,260.09 L156.4,259.06 L156.7,261.29 L157,260.74 L157.3,260.89 L157.6,258.75 L157.9,257.6 L158.2,260.28 L158.5,259.96 L158.8,260.51 L159.1,260.12 L159.4,261.22 L159.7,259.22 L160,260.47 L160.3,258.28 L160.6,256.29 L160.9,258.55 L161.2,260.92 L161.5,256.64 L161.8,259.99 L162.1,257.62 L162.4,257.83 L162.7,258.25 L163,258.32 L163.3,256.62 L163.6,257.89 L163.9,258.15 L164.2,258.5 L164.5,256.28 L164.8,259.12 L165.1,259.61 L165.4,260.67 L165.7,256.19 L166,258.56 L166.3,256.32 L166.6,259.63 L166.9,260.25 L167.2,258.44 L167.5,258.27 L167.8,260.98 L168.1,261.97 L168.4,260.6 L168.7,261.76 L169,259.29 L169.3,262.12 L169.6,263.71 L169.9,264.18 L170.2,266.52 L170.5,263.44 L170.8,262.47 L171.1,266.46 L171.4,265.57 L171.7,265.63 L172,264.33 L172.3,262.32 L172.6,262.25 L172.9,262.34 L173.2,258.64 L173.5,260.93 L173.8,263.83 L174.1,260.91 L174.4,262.91 L174.7,261.8 L175,261.85 L175.3,263.17 L175.6,263.09 L175.9,262.59 L176.2,263.29 L176.5,262.06 L176.8,262.38 L177.1,263.26 L177.4,262.78 L177.7,262.16 L178,262.99 L178.3,262.91 L178.6,263.43 L178.9,263.24 L179.2,262.55 L179.5,262.43 L179.8,262.61 L180.1,262.55 L180.4,263.47 L180.7,263.53 L181,263.4 L181.3,262.85 L181.6,262.5 L181.9,263.12 L182.2,262.42 L182.5,262.73 L182.8,261.68 L183.1,262.35 L183.4,263.37 L183.7,262 L184,261.74 L184.3,262.46 L184.6,263.46 L184.9,263.33 L185.2,262.33 L185.5,262.25 L185.8,262.45 L186.1,261.84 L186.4,261.94 L186.7,261.31 L187,260.23 L187.3,260.29 L187.6,260.03 L187.9,259.26 L188.2,258.68 L188.5,259.35 L188.8,259.46 L189.1,257.82 L189.4,257.31 L189.7,257.85 L190,257.71 L190.3,257.67 L190.6,259.13 L190.9,258.06 L191.2,258.49 L191.5,258.79 L191.8,258.94 L192.1,259.47 L192.4,259.92 L192.7,260.4 L193,259.98 L193.3,259.63 L193.6,258.93 L193.9,259.59 L194.2,259.11 L194.5,259.58 L194.8,260.17 L195.1,259.75 L195.4,259.52 L195.7,259.23 L196,259.63 L196.3,259.71 L196.6,259.14 L196.9,259.38 L197.2,260.15 L197.5,258.75 L197.8,259.42 L198.1,259.03 L198.4,260.53 L198.7,260.01 L199,259.97 L199.3,259.9 L199.6,259.85 L199.9,259.85 L200.2,258.82 L200.5,259.84 L200.8,260.03 L201.1,258.92 L201.4,260.16 L201.7,260.08 L202,258.88 L202.3,259.46 L202.6,259.56 L202.9,259.44 L203.2,259.95 L203.5,259.03 L203.8,259.62 L204.1,259.87 L204.4,260.14 L204.7,259.78 L205,259.62 L205.3,260.14 L205.6,258.67 L205.9,260.28 L206.2,259.6 L206.5,259.08 L206.8,259.54 L207.1,258.77 L207.4,258.66 L207.7,259.6 L208,259.36 L208.3,260.2 L208.6,259.31 L208.9,259.09 L209.2,259.28 L209.5,260.75 L209.8,259.82 L210.1,259.48 L210.4,259.27 L210.7,259.22 L211,259.73 L211.3,260.06 L211.6,260.46 L211.9,260.46 L212.2,259.99 L212.5,259.48 L212.8,259.37 L213.1,258.58 L213.4,259.29 L213.7,260.09 L214,259.67 L214.3,260.06 L214.6,259.12 L214.9,260.36 L215.2,260.04 L215.5,259.9 L215.8,260.1 L216.1,258.65 L216.4,259.58 L216.7,259.4 L217,260.89 L217.3,259.8 L217.6,259.62 L217.9,260.37 L218.2,259.33 L218.5,260.69 L218.8,259.53 L219.1,259.89 L219.4,259.42 L219.7,260.37 L220,258.73 L220.3,260.31 L220.6,259.49 L220.9,259.97 L221.2,259.31 L221.5,260.07 L221.8,260.05 L222.1,260.28 L222.4,260.13 L222.7,260.3 L223,260.51 L223.3,259.75 L223.6,259.32 L223.9,259.27 L224.2,260.35 L224.5,259.78 L224.8,260.56 L225.1,260.01 L225.4,259.44 L225.7,260.49 L226,261.07 L226.3,261.31 L226.6,262.3 L226.9,263.76 L227.2,265.08 L227.5,264.09 L227.8,264.02 L228.1,264.45 L228.4,263.91 L228.7,263.8 L229,263.27 L229.3,263.05 L229.6,263.32 L229.9,263.14 L230.2,263.31 L230.5,262.69 L230.8,263.13 L231.1,263.17 L231.4,262.93 L231.7,263.18 L232,263.4 L232.3,262.92 L232.6,262.83 L232.9,262.23 L233.2,262.92 L233.5,262.67 L233.8,262.53 L234.1,262.22 L234.4,262.96 L234.7,264.03 L235,262.84 L235.3,262.62 L235.6,262.79 L235.9,262.2 L236.2,262.56 L236.5,262.12 L236.8,262.1 L237.1,262.56 L237.4,262.53 L237.7,262.32 L238,261.92 L238.3,262.48 L238.6,261.71 L238.9,262.71 L239.2,262.07 L239.5,262.24 L239.8,262.65 L240.1,263.02 L240.4,260.89 L240.7,262.53 L241,263.62 L241.3,262 L241.6,260.57 L241.9,263.35 L242.2,263.13 L242.5,263.49 L242.8,262.78 L243.1,262.59 L243.4,262.48 L243.7,263.7 L244,262.28 L244.3,262.1 L244.6,260.63 L244.9,262.35 L245.2,260.53 L245.5,261.68 L245.8,257.94 L246.1,260.95 L246.4,260.46 L246.7,259.95 L247,262.17 L247.3,260.98 L247.6,260.23 L247.9,259.68 L248.2,262.76 L248.5,261.25 L248.8,261.08 L249.1,259.19 L249.4,261.83 L249.7,260.82 L250,259.7 L250.3,259.87 L250.6,257.85 L250.9,260.76 L251.2,258.45 L251.5,260.92 L251.8,259.21 L252.1,258.93 L252.4,260.17 L252.7,259.92 L253,258.14 L253.3,259.46 L253.6,260.3 L253.9,259.14 L254.2,257.68 L254.5,259.06 L254.8,258.08 L255.1,258.55 L255.4,259.37 L255.7,259.25 L256,259.06 L256.3,257.19 L256.6,259.8 L256.9,259.1 L257.2,258.84 L257.5,259.58 L257.8,261.88 L258.1,257.72 L258.4,257.32 L258.7,260.4 L259,258.4 L259.3,261.11 L259.6,258.16 L259.9,258.82 L260.2,260.54 L260.5,260.65 L260.8,260.05 L261.1,260.07 L261.4,259.32 L261.7,258.93 L262,259.25 L262.3,261.16 L262.6,260.44 L262.9,259.56 L263.2,259.96 L263.5,260.63 L263.8,261.09 L264.1,259.4 L264.4,259.48 L264.7,260.02 L265,262.97 L265.3,260.53 L265.6,262.48 L265.9,259.48 L266.2,263.18 L266.5,260.59 L266.8,260.71 L267.1,261 L267.4,261.34 L267.7,261.47 L268,261.42 L268.3,260.94 L268.6,259.8 L268.9,263.42 L269.2,260.29 L269.5,260.35 L269.8,261.81 L270.1,260.26 L270.4,259.8 L270.7,259.51 L271,261.54 L271.3,257.78 L271.6,257.97 L271.9,259.44 L272.2,256.66 L272.5,258.33 L272.8,260.82 L273.1,258.81 L273.4,259.66 L273.7,260.38 L274,255.92 L274.3,254.65 L274.6,258.09 L274.9,262.09 L275.2,260.75 L275.5,259.43 L275.8,258.99 L276.1,258.67 L276.4,260.75 L276.7,261.01 L277,260.25 L277.3,259.42 L277.6,258.19 L277.9,258.5 L278.2,258.14 L278.5,259.84 L278.8,260.75 L279.1,260.75 L279.4,259.56 L279.7,259.1 L280,259.83 L280.3,260.04 L280.6,260.94 L280.9,262.35 L281.2,259.86 L281.5,263.72 L281.8,258.61 L282.1,259.1 L282.4,259.12 L282.7,259.43 L283,260.13 L283.3,262.77 L283.6,258.89 L283.9,260.89 L284.2,258.69 L284.5,259.03 L284.8,257.2 L285.1,261.22 L285.4,258.25 L285.7,257.51 L286,261.23 L286.3,258.53 L286.6,258.84 L286.9,258.11 L287.2,257.23 L287.5,256.46 L287.8,258.07 L288.1,260.38 L288.4,258.84 L288.7,258.08 L289,259.67 L289.3,257.1 L289.6,260.07 L289.9,258.28 L290.2,257.23 L290.5,259.17 L290.8,258.96 L291.1,257.86 L291.4,258.58 L291.7,259.56 L292,260.11 L292.3,257.21 L292.6,254.91 L292.9,260.94 L293.2,257.96 L293.5,257.76 L293.8,258.85 L294.1,257.75 L294.4,259.64 L294.7,256.7 L295,258.04 L295.3,256.68 L295.6,260.26 L295.9,257.98 L296.2,259.71 L296.5,260.09 L296.8,256.76 L297.1,258.02 L297.4,259.23 L297.7,258.36 L298,258.13 L298.3,259.38 L298.6,259.48 L298.9,257.54 L299.2,258.13 L299.5,259.13 L299.8,258.57 L300.1,258.47 L300.4,256.82 L300.7,260.49 L301,257.9 L301.3,258.51 L301.6,258.09 L301.9,258.19 L302.2,258.27 L302.5,256.97 L302.8,258.51 L303.1,259.9 L303.4,259.92 L303.7,261.38 L304,262.12 L304.3,262.59 L304.6,265.94 L304.9,263.77 L305.2,264.7 L305.5,264.33 L305.8,262.18 L306.1,259.24 L306.4,258 L306.7,261.23 L307,258.31 L307.3,259.88 L307.6,260.9 L307.9,260.64 L308.2,258.55 L308.5,258.72 L308.8,261.36 L309.1,260.83 L309.4,261.81 L309.7,262.59 L310,263.01 L310.3,261.09 L310.6,260.65 L310.9,264.05 L311.2,262.04 L311.5,261.35 L311.8,260.3 L312.1,263.58 L312.4,261.27 L312.7,261.56 L313,263.72 L313.3,263.33 L313.6,263.67 L313.9,261.32 L314.2,259.27 L314.5,261.71 L314.8,262.6 L315.1,262.07 L315.4,263.86 L315.7,262.95 L316,260.92 L316.3,262.78 L316.6,261.64 L316.9,260.98 L317.2,262.84 L317.5,259.01 L317.8,262.28 L318.1,262.17 L318.4,257.98 L318.7,260.27 L319,260.19 L319.3,258.81 L319.6,259.42 L319.9,258.99 L320.2,259.95 L320.5,259.58 L320.8,258.83 L321.1,260.04 L321.4,259.8 L321.7,258.99 L322,259.55 L322.3,260 L322.6,258.58 L322.9,259.03 L323.2,258.99 L323.5,259.42 L323.8,259.07 L324.1,258.64 L324.4,259.7 L324.7,259.06 L325,259.48 L325.3,260.1 L325.6,258.89 L325.9,259.02 L326.2,259.55 L326.5,259.14 L326.8,259.39 L327.1,259.18 L327.4,260.3 L327.7,259.44 L328,259.32 L328.3,259.23 L328.6,259.33 L328.9,258.53 L329.2,259.07 L329.5,259.47 L329.8,258.7 L330.1,259.19 L330.4,259.14 L330.7,258.97 L331,260.17 L331.3,259.46 L331.6,259.3 L331.9,258.86 L332.2,259.2 L332.5,259.05 L332.8,259.13 L333.1,259.26 L333.4,260.17 L333.7,259.7 L334,259.85 L334.3,259.71 L334.6,260.29 L334.9,258.9 L335.2,258.65 L335.5,259.24 L335.8,259.26 L336.1,259.17 L336.4,258.91 L336.7,259.43 L337,259.85 L337.3,259.24 L337.6,259.06 L337.9,259.63 L338.2,259.03 L338.5,259.01 L338.8,259.28 L339.1,258.24 L339.4,259.9 L339.7,259.11 L340,259.35 L340.3,259.27 L340.6,259.31 L340.9,258.61 L341.2,259.85 L341.5,259.37 L341.8,259.26 L342.1,260.4 L342.4,258.63 L342.7,259.44 L343,259.1 L343.3,258.54 L343.6,259.91 L343.9,258.51 L344.2,259.19 L344.5,259.1 L344.8,259.21 L345.1,258.76 L345.4,259.68 L345.7,259.23 L346,258.62 L346.3,258.64 L346.6,259.24 L346.9,258.66 L347.2,259.3 L347.5,259.26 L347.8,258.89 L348.1,258.35 L348.4,258.6 L348.7,259.26 L349,258.91 L349.3,259.86 L349.6,258.94 L349.9,259.27 L350.2,259.39 L350.5,259.15 L350.8,259.24 L351.1,259.52 L351.4,259.06 L351.7,259.25 L352,258.97 L352.3,259.91 L352.6,259.18 L352.9,259.44 L353.2,257.92 L353.5,258.91 L353.8,258.65 L354.1,259.12 L354.4,258.93 L354.7,258.68 L355,258.99 L355.3,259.48 L355.6,259.63 L355.9,259.04 L356.2,259.73 L356.5,261.65 L356.8,262.17 L357.1,261.6 L357.4,262.38 L357.7,262.91 L358,261.89 L358.3,262.62 L358.6,261.69 L358.9,262.14 L359.2,263.6 L359.5,262.63 L359.8,263 L360.1,262.27 L360.4,263.05 L360.7,262.88 L361,263.8 L361.3,263.24 L361.6,264.61 L361.9,263.28 L362.2,263.98 L362.5,263.18 L362.8,263.95 L363.1,264.68 L363.4,264.11 L363.7,263.6 L364,264.28 L364.3,264.43 L364.6,264.19 L364.9,264.38 L365.2,263.38 L365.5,264.64 L365.8,264.16 L366.1,263 L366.4,264.55 L366.7,263.58 L367,263.94 L367.3,262.91 L367.6,263.41 L367.9,262.9 L368.2,263.93 L368.5,263.47 L368.8,263.16 L369.1,263.25 L369.4,263.55 L369.7,262.49 L370,262.73 L370.3,261.73 L370.6,261.15 L370.9,261.08 L371.2,260.62 L371.5,260.26 L371.8,260.02 L372.1,258.94 L372.4,259.18 L372.7,259.85 L373,259.94 L373.3,259.96 L373.6,260.3 L373.9,259.55 L374.2,260.39 L374.5,260.13 L374.8,260.79 L375.1,261.45 L375.4,260.58 L375.7,261.78 L376,261.35 L376.3,261.65 L376.6,261.72 L376.9,262.17 L377.2,261.6 L377.5,261.01 L377.8,261.95 L378.1,261.75 L378.4,262.04 L378.7,262.01 L379,261.27 L379.3,261.81 L379.6,261.76 L379.9,261.66 L380.2,261.71 L380.5,261.78 L380.8,261.42 L381.1,261.56 L381.4,261.99 L381.7,261.16 L382,261.53 L382.3,261.14 L382.6,261.1 L382.9,261.34 L383.2,261.44 L383.5,261.77 L383.8,260.89 L384.1,261.14 L384.4,260.78 L384.7,260.39 L385,258.93 L385.3,260.02 L385.6,259.79 L385.9,259.15 L386.2,259.44 L386.5,259.82 L386.8,258.6 L387.1,258.69 L387.4,259.1 L387.7,257.85 L388,257.99 L388.3,258.36 L388.6,258.46 L388.9,258.4 L389.2,258.05 L389.5,258.51 L389.8,257.57 L390.1,256.74 L390.4,257.13 L390.7,257.47 L391,257.38 L391.3,256.47 L391.6,257.41 L391.9,256.95 L392.2,257.2 L392.5,257.88 L392.8,257.24 L393.1,257.05 L393.4,257.28 L393.7,257.09 L394,258.17 L394.3,257.7 L394.6,257.74 L394.9,257.12 L395.2,257.15 L395.5,257.52 L395.8,256.56 L396.1,257.85 L396.4,256.94 L396.7,257.51 L397,257.61 L397.3,257.17 L397.6,257.64 L397.9,257.79 L398.2,258.29 L398.5,257.7 L398.8,258.28 L399.1,257.75 L399.4,257.5 L399.7,257.93 L400,256.56 L400.3,257.9 L400.6,258.85 L400.9,259.88 L401.2,258.15 L401.5,254.68 L401.8,260.2 L402.1,257.94 L402.4,257.01 L402.7,255.98 L403,258.75 L403.3,258.27 L403.6,258.97 L403.9,257.34 L404.2,260.67 L404.5,257.08 L404.8,258.42 L405.1,258 L405.4,259.72 L405.7,256.22 L406,257.01 L406.3,257.17 L406.6,256.28 L406.9,256.29 L407.2,255.19 L407.5,259.1 L407.8,260.58 L408.1,255.64 L408.4,259.14 L408.7,255.3 L409,255.98 L409.3,256.97 L409.6,257.84 L409.9,258.51 L410.2,253.74 L410.5,254.97 L410.8,257.76 L411.1,257.1 L411.4,261.85 L411.7,257.04 L412,256.3 L412.3,260.01 L412.6,252.27 L412.9,253.87 L413.2,263.02 L413.5,256.35 L413.8,257.73 L414.1,257.22 L414.4,255.82 L414.7,257.31 L415,254.97 L415.3,259.51 L415.6,259.13 L415.9,258.95 L416.2,255.76 L416.5,253.73 L416.8,256.62 L417.1,255.4 L417.4,258.37 L417.7,254.37 L418,255.75 L418.3,257.86 L418.6,258.45 L418.9,257.78 L419.2,255.07 L419.5,256.23 L419.8,261.59 L420.1,259.47 L420.4,255.94 L420.7,261.39 L421,257.32 L421.3,257.58 L421.6,255.94 L421.9,260.61 L422.2,257.8 L422.5,257.43 L422.8,255.75 L423.1,255.03 L423.4,257.94 L423.7,257.6 L424,260.69 L424.3,255.78 L424.6,256.84 L424.9,259.56 L425.2,259.22 L425.5,256.24 L425.8,260.51 L426.1,258.54 L426.4,259.37 L426.7,258.28 L427,259.53 L427.3,256.76 L427.6,257.16 L427.9,259.76 L428.2,258.37 L428.5,258.31 L428.8,259.86 L429.1,258.06 L429.4,258.4 L429.7,253.19 L430,256.54 L430.3,259.23 L430.6,255.83 L430.9,257.01 L431.2,258.04 L431.5,257.31 L431.8,259.31" fill="none" stroke="#e3737f" stroke-width="1.5" stroke-linejoin="round"/>
<rect x="50.9" y="199.9" width="5.2" height="5.2" fill="none" stroke="#1b74c4" stroke-width="1.7"/>
<rect x="50.4" y="204.7" width="5.2" height="5.2" fill="none" stroke="#1b74c4" stroke-width="1.7"/>
<rect x="62.8" y="199.6" width="5.2" height="5.2" fill="none" stroke="#1b74c4" stroke-width="1.7"/>
<rect x="73.8" y="202.1" width="5.2" height="5.2" fill="none" stroke="#1b74c4" stroke-width="1.7"/>
<rect x="85.5" y="200.7" width="5.2" height="5.2" fill="none" stroke="#1b74c4" stroke-width="1.7"/>
<rect x="96.9" y="203.6" width="5.2" height="5.2" fill="none" stroke="#1b74c4" stroke-width="1.7"/>
<rect x="108.1" y="200.7" width="5.2" height="5.2" fill="none" stroke="#1b74c4" stroke-width="1.7"/>
<rect x="119.8" y="202.1" width="5.2" height="5.2" fill="none" stroke="#1b74c4" stroke-width="1.7"/>
<rect x="131" y="198.7" width="5.2" height="5.2" fill="none" stroke="#1b74c4" stroke-width="1.7"/>
<rect x="142.7" y="201.9" width="5.2" height="5.2" fill="none" stroke="#1b74c4" stroke-width="1.7"/>
<rect x="154.3" y="201.7" width="5.2" height="5.2" fill="none" stroke="#1b74c4" stroke-width="1.7"/>
<rect x="165.8" y="201.7" width="5.2" height="5.2" fill="none" stroke="#1b74c4" stroke-width="1.7"/>
<rect x="177.2" y="197.7" width="5.2" height="5.2" fill="none" stroke="#1b74c4" stroke-width="1.7"/>
<rect x="188.8" y="202.1" width="5.2" height="5.2" fill="none" stroke="#1b74c4" stroke-width="1.7"/>
<rect x="200" y="202.1" width="5.2" height="5.2" fill="none" stroke="#1b74c4" stroke-width="1.7"/>
<rect x="211.6" y="203.4" width="5.2" height="5.2" fill="none" stroke="#1b74c4" stroke-width="1.7"/>
<rect x="222.8" y="203.4" width="5.2" height="5.2" fill="none" stroke="#1b74c4" stroke-width="1.7"/>
<rect x="234.6" y="199" width="5.2" height="5.2" fill="none" stroke="#1b74c4" stroke-width="1.7"/>
<rect x="246" y="203.4" width="5.2" height="5.2" fill="none" stroke="#1b74c4" stroke-width="1.7"/>
<rect x="257.5" y="204.6" width="5.2" height="5.2" fill="none" stroke="#1b74c4" stroke-width="1.7"/>
<rect x="269.1" y="199.2" width="5.2" height="5.2" fill="none" stroke="#1b74c4" stroke-width="1.7"/>
<rect x="280.5" y="204.3" width="5.2" height="5.2" fill="none" stroke="#1b74c4" stroke-width="1.7"/>
<rect x="291.9" y="200.2" width="5.2" height="5.2" fill="none" stroke="#1b74c4" stroke-width="1.7"/>
<rect x="303.4" y="200.7" width="5.2" height="5.2" fill="none" stroke="#1b74c4" stroke-width="1.7"/>
<rect x="314.8" y="204.6" width="5.2" height="5.2" fill="none" stroke="#1b74c4" stroke-width="1.7"/>
<rect x="326.2" y="201.1" width="5.2" height="5.2" fill="none" stroke="#1b74c4" stroke-width="1.7"/>
<rect x="337.6" y="203.8" width="5.2" height="5.2" fill="none" stroke="#1b74c4" stroke-width="1.7"/>
<rect x="349.2" y="198.7" width="5.2" height="5.2" fill="none" stroke="#1b74c4" stroke-width="1.7"/>
<rect x="360.9" y="205" width="5.2" height="5.2" fill="none" stroke="#1b74c4" stroke-width="1.7"/>
<rect x="372.1" y="202.1" width="5.2" height="5.2" fill="none" stroke="#1b74c4" stroke-width="1.7"/>
<rect x="383.5" y="203.6" width="5.2" height="5.2" fill="none" stroke="#1b74c4" stroke-width="1.7"/>
<rect x="395.2" y="201.4" width="5.2" height="5.2" fill="none" stroke="#1b74c4" stroke-width="1.7"/>
<rect x="406.6" y="199.9" width="5.2" height="5.2" fill="none" stroke="#1b74c4" stroke-width="1.7"/>
<rect x="418.1" y="203.9" width="5.2" height="5.2" fill="none" stroke="#1b74c4" stroke-width="1.7"/>
<rect x="425.8" y="202.5" width="5.2" height="5.2" fill="none" stroke="#1b74c4" stroke-width="1.7"/>
<line x1="47" y1="345.2" x2="50" y2="345.2" stroke="#3a3a3a"/>
<text x="48" y="350.2" font-size="14" text-anchor="end" font-weight="normal" fill="#000" >-0</text>
<line x1="47" y1="309.7" x2="50" y2="309.7" stroke="#3a3a3a"/>
<text x="48" y="314.7" font-size="14" text-anchor="end" font-weight="normal" fill="#000" >-50</text>
<line x1="47" y1="274.2" x2="50" y2="274.2" stroke="#3a3a3a"/>
<text x="48" y="279.2" font-size="14" text-anchor="end" font-weight="normal" fill="#000" >-100</text>
<line x1="47" y1="238.7" x2="50" y2="238.7" stroke="#3a3a3a"/>
<text x="48" y="243.7" font-size="14" text-anchor="end" font-weight="normal" fill="#000" >-150</text>
<line x1="47" y1="203.2" x2="50" y2="203.2" stroke="#3a3a3a"/>
<text x="48" y="208.2" font-size="14" text-anchor="end" font-weight="normal" fill="#000" >-200</text>
<line x1="48" y1="327.45" x2="50" y2="327.45" stroke="#3a3a3a"/>
<line x1="48" y1="291.95" x2="50" y2="291.95" stroke="#3a3a3a"/>
<line x1="48" y1="256.45" x2="50" y2="256.45" stroke="#3a3a3a"/>
<line x1="48" y1="220.95" x2="50" y2="220.95" stroke="#3a3a3a"/>
<line x1="432" y1="344.7" x2="435" y2="344.7" stroke="#3a3a3a"/>
<text x="438.8" y="349.7" font-size="14" text-anchor="start" font-weight="normal" fill="#000" >0</text>
<line x1="432" y1="315.76" x2="435" y2="315.76" stroke="#3a3a3a"/>
<text x="438.8" y="320.76" font-size="14" text-anchor="start" font-weight="normal" fill="#000" >20</text>
<line x1="432" y1="286.82" x2="435" y2="286.82" stroke="#3a3a3a"/>
<text x="438.8" y="291.82" font-size="14" text-anchor="start" font-weight="normal" fill="#000" >40</text>
<line x1="432" y1="257.88" x2="435" y2="257.88" stroke="#3a3a3a"/>
<text x="438.8" y="262.88" font-size="14" text-anchor="start" font-weight="normal" fill="#000" >60</text>
<line x1="432" y1="228.94" x2="435" y2="228.94" stroke="#3a3a3a"/>
<text x="438.8" y="233.94" font-size="14" text-anchor="start" font-weight="normal" fill="#000" >80</text>
<line x1="432" y1="200" x2="435" y2="200" stroke="#3a3a3a"/>
<text x="438.8" y="205" font-size="14" text-anchor="start" font-weight="normal" fill="#000" >100</text>
<line x1="432" y1="330.23" x2="434" y2="330.23" stroke="#3a3a3a"/>
<line x1="432" y1="301.29" x2="434" y2="301.29" stroke="#3a3a3a"/>
<line x1="432" y1="272.35" x2="434" y2="272.35" stroke="#3a3a3a"/>
<line x1="432" y1="243.41" x2="434" y2="243.41" stroke="#3a3a3a"/>
<line x1="432" y1="214.47" x2="434" y2="214.47" stroke="#3a3a3a"/>
<line x1="50" y1="345.2" x2="50" y2="348.2" stroke="#3a3a3a"/>
<text x="50" y="361" font-size="14" text-anchor="middle" font-weight="normal" fill="#000" >0</text>
<line x1="126.3" y1="345.2" x2="126.3" y2="348.2" stroke="#3a3a3a"/>
<text x="126.3" y="361" font-size="14" text-anchor="middle" font-weight="normal" fill="#000" >20</text>
<line x1="202.6" y1="345.2" x2="202.6" y2="348.2" stroke="#3a3a3a"/>
<text x="202.6" y="361" font-size="14" text-anchor="middle" font-weight="normal" fill="#000" >40</text>
<line x1="278.9" y1="345.2" x2="278.9" y2="348.2" stroke="#3a3a3a"/>
<text x="278.9" y="361" font-size="14" text-anchor="middle" font-weight="normal" fill="#000" >60</text>
<line x1="355.2" y1="345.2" x2="355.2" y2="348.2" stroke="#3a3a3a"/>
<text x="355.2" y="361" font-size="14" text-anchor="middle" font-weight="normal" fill="#000" >80</text>
<line x1="431.5" y1="345.2" x2="431.5" y2="348.2" stroke="#3a3a3a"/>
<text x="431.5" y="361" font-size="14" text-anchor="middle" font-weight="normal" fill="#000" >100</text>
<line x1="88.15" y1="345.2" x2="88.15" y2="347.2" stroke="#3a3a3a"/>
<line x1="164.45" y1="345.2" x2="164.45" y2="347.2" stroke="#3a3a3a"/>
<line x1="240.75" y1="345.2" x2="240.75" y2="347.2" stroke="#3a3a3a"/>
<line x1="317.05" y1="345.2" x2="317.05" y2="347.2" stroke="#3a3a3a"/>
<line x1="393.35" y1="345.2" x2="393.35" y2="347.2" stroke="#3a3a3a"/>
<text x="241" y="377" font-size="14" text-anchor="middle" font-weight="normal" fill="#000" >Time (hour)</text>
<text transform="translate(15.6,270.5) rotate(-90)" font-size="14" text-anchor="middle"><tspan font-style="italic">j</tspan><tspan font-size="10" dy="3.8">total</tspan><tspan dy="-3.8"> (mA cm</tspan><tspan font-size="10" dy="-5">-2</tspan><tspan dy="5">)</tspan></text>
<text transform="translate(460,284) rotate(90)" font-size="14" text-anchor="middle">FE<tspan font-size="10" dy="3.8">CO</tspan><tspan dy="-3.8"> (%)</tspan></text>
<text x="5.5" y="209" font-size="16" text-anchor="start" font-weight="bold" fill="#000" >d</text>
<path d="M80.8,271.2 L80.8,280.7 L62,280.7" fill="none" stroke="#e3737f" stroke-width="1"/>
<polygon points="59.5,280.7 64.5,278.6 64.5,282.8" fill="#e3737f"/>
<path d="M403.2,215 L403.2,224.2 L421,224.2" fill="none" stroke="#1b74c4" stroke-width="1"/>
<polygon points="424,224.2 419,222.1 419,226.3" fill="#1b74c4"/>
<rect x="511.5" y="197" width="172.5" height="147.5" fill="none" stroke="#3a3a3a" stroke-width="1"/>
<line x1="511.5" y1="234.1" x2="684" y2="234.1" stroke="#3a3a3a" stroke-width="1"/>
<line x1="511.5" y1="271.3" x2="684" y2="271.3" stroke="#3a3a3a" stroke-width="1"/>
<line x1="511.5" y1="307.4" x2="684" y2="307.4" stroke="#3a3a3a" stroke-width="1"/>
<line x1="521.1" y1="344.5" x2="521.1" y2="346.5" stroke="#3a3a3a"/>
<line x1="531.9" y1="344.5" x2="531.9" y2="346.5" stroke="#3a3a3a"/>
<line x1="542.7" y1="344.5" x2="542.7" y2="347.7" stroke="#3a3a3a"/>
<line x1="553.5" y1="344.5" x2="553.5" y2="346.5" stroke="#3a3a3a"/>
<line x1="564.3" y1="344.5" x2="564.3" y2="346.5" stroke="#3a3a3a"/>
<line x1="575.1" y1="344.5" x2="575.1" y2="346.5" stroke="#3a3a3a"/>
<line x1="585.9" y1="344.5" x2="585.9" y2="346.5" stroke="#3a3a3a"/>
<line x1="596.7" y1="344.5" x2="596.7" y2="347.7" stroke="#3a3a3a"/>
<line x1="607.5" y1="344.5" x2="607.5" y2="346.5" stroke="#3a3a3a"/>
<line x1="618.3" y1="344.5" x2="618.3" y2="346.5" stroke="#3a3a3a"/>
<line x1="629.1" y1="344.5" x2="629.1" y2="346.5" stroke="#3a3a3a"/>
<line x1="639.9" y1="344.5" x2="639.9" y2="346.5" stroke="#3a3a3a"/>
<line x1="650.7" y1="344.5" x2="650.7" y2="347.7" stroke="#3a3a3a"/>
<line x1="661.5" y1="344.5" x2="661.5" y2="346.5" stroke="#3a3a3a"/>
<line x1="672.3" y1="344.5" x2="672.3" y2="346.5" stroke="#3a3a3a"/>
<text x="542.4" y="360.3" font-size="14" text-anchor="middle" font-weight="normal" fill="#000" >0.5</text>
<text x="596.4" y="360.3" font-size="14" text-anchor="middle" font-weight="normal" fill="#000" >1.0</text>
<text x="650.4" y="360.3" font-size="14" text-anchor="middle" font-weight="normal" fill="#000" >1.5</text>
<text x="598" y="374" font-size="13.8" text-anchor="middle" font-weight="normal" fill="#000" ><tspan font-style="italic">E</tspan> (V versus RHE)</text>
<text transform="translate(500.5,272.3) rotate(-90)" font-size="14" text-anchor="middle"><tspan font-style="italic">j</tspan><tspan font-size="10" dy="3.8">total</tspan><tspan dy="-3.8"> (mA cm</tspan><tspan font-size="10" dy="-5">-2</tspan><tspan dy="5">)</tspan></text>
<text x="488.3" y="209" font-size="16" text-anchor="start" font-weight="bold" fill="#000" >e</text>
<line x1="519.5" y1="200.3" x2="519.5" y2="216.1" stroke="#111" stroke-width="1"/>
<polygon points="519.5,198.3 521.4,200.3 519.5,202.3 517.6,200.3" fill="#111"/>
<polygon points="519.5,214.1 521.4,216.1 519.5,218.1 517.6,216.1" fill="#111"/>
<text x="522.9" y="211.9" font-size="12" text-anchor="start" font-weight="normal" fill="#3a3a3a" style="stroke:none">1 mA cm<tspan font-size="8.3" dy="-3.4" dx="0.6">-2</tspan></text>
<defs><linearGradient id="gAuNTs" x1="0" y1="0" x2="0" y2="1"><stop offset="0" stop-color="#f5a31a" stop-opacity="0.03"/><stop offset="0.5" stop-color="#f5a31a" stop-opacity="0.4"/><stop offset="1" stop-color="#f5a31a" stop-opacity="1"/></linearGradient></defs>
<polygon points="605.41,217.41 606.51,217.85 607.6,218.62 608.67,219.8 609.73,221.42 610.79,223.37 611.85,225.43 612.92,227.35 613.9,228.66 614,228.66 615.08,226.95 616.13,224.96 617.16,222.9 618.17,221.02 619.16,219.48 620.14,218.34 621.11,217.57 622.08,217.08 622.08,216.53 621.11,216.56 620.14,216.6 619.16,216.63 618.17,216.67 617.16,216.7 616.13,216.73 615.08,216.77 614,216.8 612.92,216.83 611.85,216.86 610.79,216.88 609.73,216.9 608.67,216.91 607.6,216.93 606.51,216.94 605.41,216.96" fill="url(#gAuNTs)"/>
<path d="M515.9,222 L516.1,221.88 L516.31,221.74 L516.56,221.57 L516.82,221.39 L517.11,221.18 L517.42,220.96 L517.75,220.74 L518.11,220.5 L518.49,220.26 L518.89,220.02 L519.32,219.78 L519.76,219.54 L520.24,219.31 L520.74,219.09 L521.26,218.89 L521.8,218.7 L522.38,218.52 L523,218.35 L523.66,218.17 L524.36,218 L525.08,217.83 L525.83,217.67 L526.6,217.51 L527.38,217.35 L528.18,217.2 L528.98,217.05 L529.79,216.91 L530.59,216.77 L531.39,216.64 L532.18,216.52 L532.95,216.41 L533.7,216.3 L534.43,216.2 L535.13,216.12 L535.82,216.04 L536.49,215.97 L537.15,215.91 L537.82,215.86 L538.48,215.81 L539.16,215.77 L539.84,215.73 L540.55,215.69 L541.28,215.65 L542.05,215.6 L542.84,215.56 L543.68,215.51 L544.56,215.46 L545.5,215.4 L546.44,215.34 L547.35,215.27 L548.24,215.21 L549.12,215.14 L550.02,215.07 L550.93,215 L551.89,214.93 L552.89,214.86 L553.97,214.79 L555.12,214.72 L556.36,214.65 L557.72,214.58 L559.19,214.51 L560.81,214.44 L562.57,214.37 L564.5,214.3 L566.66,214.23 L569.09,214.16 L571.76,214.09 L574.61,214.02 L577.62,213.95 L580.74,213.88 L583.94,213.81 L587.19,213.74 L590.43,213.67 L593.64,213.61 L596.77,213.54 L599.8,213.47 L602.67,213.4 L605.35,213.33 L607.81,213.27 L610,213.2 L611.97,213.14 L613.81,213.08 L615.51,213.03 L617.1,212.98 L618.57,212.93 L619.93,212.88 L621.21,212.83 L622.4,212.78 L623.52,212.73 L624.57,212.67 L625.56,212.61 L626.5,212.55 L627.41,212.47 L628.29,212.39 L629.15,212.3 L630,212.2 L630.8,212.09 L631.5,211.97 L632.11,211.85 L632.65,211.71 L633.13,211.57 L633.55,211.43 L633.93,211.28 L634.28,211.12 L634.61,210.97 L634.92,210.81 L635.23,210.64 L635.54,210.48 L635.88,210.31 L636.24,210.14 L636.65,209.97 L637.1,209.8 L637.59,209.63 L638.08,209.44 L638.58,209.25 L639.09,209.05 L639.61,208.84 L640.12,208.64 L640.65,208.43 L641.17,208.22 L641.7,208.01 L642.23,207.81 L642.77,207.62 L643.3,207.43 L643.83,207.25 L644.35,207.09 L644.88,206.94 L645.4,206.8 L645.91,206.68 L646.41,206.57 L646.91,206.48 L647.39,206.39 L647.88,206.32 L648.36,206.25 L648.84,206.19 L649.33,206.14 L649.83,206.09 L650.33,206.04 L650.85,205.99 L651.38,205.94 L651.93,205.89 L652.5,205.83 L653.09,205.77 L653.7,205.7 L654.35,205.63 L655.02,205.55 L655.73,205.48 L656.46,205.4 L657.21,205.33 L657.97,205.25 L658.74,205.18 L659.53,205.1 L660.31,205.02 L661.09,204.95 L661.86,204.87 L662.63,204.8 L663.38,204.72 L664.11,204.65 L664.82,204.57 L665.5,204.5 L666.17,204.43 L666.83,204.35 L667.5,204.27 L668.16,204.19 L668.82,204.12 L669.46,204.04 L670.1,203.96 L670.72,203.88 L671.33,203.81 L671.93,203.73 L672.5,203.67 L673.05,203.6 L673.58,203.54 L674.08,203.49 L674.56,203.44 L675,203.4 L675.42,203.36 L675.81,203.33 L676.17,203.29 L676.51,203.26 L676.83,203.23 L677.13,203.21 L677.41,203.18 L677.67,203.17 L677.92,203.16 L678.14,203.15 L678.35,203.16 L678.55,203.17 L678.73,203.19 L678.9,203.21 L679.05,203.25 L679.2,203.3 L679.33,203.36 L679.44,203.43 L679.53,203.5 L679.61,203.59 L679.66,203.69 L679.7,203.79 L679.73,203.9 L679.74,204.01 L679.74,204.13 L679.73,204.26 L679.71,204.39 L679.69,204.53 L679.65,204.67 L679.6,204.81 L679.55,204.95 L679.5,205.1 L679.44,205.25 L679.37,205.41 L679.29,205.58 L679.2,205.76 L679.11,205.94 L679,206.13 L678.89,206.32 L678.76,206.51 L678.63,206.71 L678.48,206.9 L678.33,207.09 L678.16,207.28 L677.99,207.47 L677.8,207.65 L677.61,207.83 L677.4,208 L677.19,208.16 L676.99,208.32 L676.8,208.47 L676.6,208.62 L676.41,208.77 L676.2,208.91 L675.98,209.05 L675.74,209.19 L675.48,209.34 L675.19,209.48 L674.88,209.62 L674.53,209.77 L674.14,209.92 L673.71,210.07 L673.23,210.23 L672.7,210.4 L672.11,210.57 L671.46,210.76 L670.75,210.95 L669.99,211.15 L669.18,211.36 L668.35,211.56 L667.48,211.77 L666.59,211.98 L665.69,212.19 L664.79,212.39 L663.88,212.58 L662.98,212.77 L662.1,212.95 L661.23,213.11 L660.4,213.26 L659.6,213.4 L658.84,213.52 L658.1,213.62 L657.39,213.72 L656.7,213.8 L656.02,213.87 L655.34,213.93 L654.67,213.99 L653.99,214.04 L653.31,214.09 L652.61,214.13 L651.89,214.18 L651.14,214.23 L650.37,214.29 L649.55,214.35 L648.7,214.42 L647.8,214.5 L646.85,214.59 L645.85,214.68 L644.81,214.78 L643.73,214.89 L642.62,214.99 L641.49,215.1 L640.33,215.21 L639.16,215.32 L637.99,215.44 L636.81,215.54 L635.63,215.65 L634.46,215.75 L633.31,215.85 L632.18,215.94 L631.07,216.02 L630,216.1 L628.96,216.17 L627.93,216.23 L626.93,216.32 L625.94,216.39 L624.97,216.48 L624,216.6 L623.04,216.78 L622.08,217.08 L621.11,217.57 L620.14,218.34 L619.16,219.48 L618.17,221.02 L617.16,222.9 L616.13,224.96 L615.08,226.95 L614,228.66 L612.92,227.35 L611.85,225.43 L610.79,223.37 L609.73,221.42 L608.67,219.8 L607.6,218.62 L606.51,217.85 L605.41,217.41 L604.27,217.18 L603.1,217.09 L601.89,217.06 L600.63,217.06 L599.32,217.07 L597.95,217.1 L596.51,217.15 L595,217.2 L593.41,217.26 L591.74,217.34 L590,217.42 L588.19,217.51 L586.33,217.6 L584.42,217.7 L582.47,217.81 L580.49,217.91 L578.48,218.02 L576.46,218.12 L574.44,218.22 L572.42,218.31 L570.4,218.4 L568.41,218.48 L566.44,218.54 L564.5,218.6 L562.55,218.64 L560.54,218.68 L558.49,218.7 L556.4,218.71 L554.3,218.72 L552.19,218.72 L550.09,218.72 L548.01,218.72 L545.96,218.71 L543.96,218.71 L542.02,218.71 L540.16,218.71 L538.38,218.72 L536.7,218.74 L535.14,218.76 L533.7,218.8 L532.38,218.84 L531.17,218.89 L530.04,218.94 L529.01,218.99 L528.05,219.04 L527.16,219.1 L526.34,219.17 L525.58,219.23 L524.86,219.3 L524.19,219.37 L523.56,219.45 L522.96,219.53 L522.38,219.62 L521.81,219.71 L521.25,219.8 L520.7,219.9 L520.17,220.01 L519.67,220.13 L519.22,220.26 L518.81,220.4 L518.43,220.55 L518.09,220.71 L517.77,220.86 L517.49,221.02 L517.23,221.17 L516.99,221.32 L516.77,221.47 L516.57,221.6 L516.39,221.72 L516.21,221.83 L516.05,221.92 L515.9,222" fill="none" stroke="#f5a31a" stroke-width="0.9" stroke-linejoin="round"/>
<text x="632.2" y="228.8" font-size="11.3" text-anchor="start" font-weight="normal" fill="#000" >AuNTs</text>
<defs><linearGradient id="gAuNDs" x1="0" y1="0" x2="0" y2="1"><stop offset="0" stop-color="#828282" stop-opacity="0.03"/><stop offset="0.5" stop-color="#828282" stop-opacity="0.4"/><stop offset="1" stop-color="#828282" stop-opacity="1"/></linearGradient></defs>
<polygon points="605.41,256.15 606.51,256.74 607.6,257.68 608.67,259.05 609.73,260.82 610.79,262.83 611.85,264.84 612.92,266.61 613.5,266.69 614,266.69 615.08,264.86 616.13,262.8 617.16,260.75 618.17,258.96 619.16,257.54 620.14,256.5 621.11,255.79 622.08,255.33 622.08,254.91 621.11,255.02 620.14,255.13 619.16,255.23 618.17,255.32 617.16,255.4 616.13,255.48 615.08,255.54 614,255.6 612.92,255.64 611.85,255.66 610.79,255.67 609.73,255.67 608.67,255.65 607.6,255.63 606.51,255.61 605.41,255.58" fill="url(#gAuNDs)"/>
<path d="M516.2,263.8 L516.4,263.62 L516.63,263.39 L516.9,263.13 L517.2,262.83 L517.52,262.51 L517.87,262.16 L518.24,261.8 L518.62,261.43 L519.02,261.05 L519.42,260.68 L519.83,260.3 L520.24,259.94 L520.65,259.59 L521.04,259.27 L521.43,258.97 L521.8,258.7 L522.16,258.46 L522.53,258.22 L522.9,258 L523.27,257.79 L523.65,257.58 L524.03,257.39 L524.4,257.2 L524.78,257.03 L525.16,256.85 L525.54,256.69 L525.92,256.53 L526.3,256.38 L526.68,256.23 L527.05,256.08 L527.43,255.94 L527.8,255.8 L528.16,255.67 L528.5,255.54 L528.83,255.43 L529.14,255.32 L529.45,255.22 L529.76,255.12 L530.07,255.03 L530.39,254.94 L530.72,254.86 L531.06,254.78 L531.42,254.7 L531.81,254.62 L532.23,254.54 L532.68,254.46 L533.17,254.38 L533.7,254.3 L534.26,254.22 L534.84,254.14 L535.44,254.06 L536.07,253.99 L536.71,253.91 L537.38,253.84 L538.07,253.77 L538.78,253.7 L539.52,253.63 L540.29,253.56 L541.08,253.49 L541.91,253.41 L542.76,253.34 L543.64,253.26 L544.55,253.18 L545.5,253.1 L546.44,253.01 L547.35,252.93 L548.24,252.84 L549.12,252.75 L550.02,252.65 L550.93,252.56 L551.89,252.46 L552.89,252.37 L553.97,252.27 L555.12,252.18 L556.36,252.08 L557.72,251.98 L559.19,251.89 L560.81,251.79 L562.57,251.69 L564.5,251.6 L566.66,251.51 L569.09,251.42 L571.76,251.33 L574.61,251.24 L577.62,251.15 L580.74,251.06 L583.94,250.98 L587.19,250.89 L590.43,250.8 L593.64,250.71 L596.77,250.61 L599.8,250.52 L602.67,250.42 L605.35,250.32 L607.81,250.21 L610,250.1 L611.97,249.99 L613.81,249.87 L615.51,249.74 L617.1,249.61 L618.57,249.48 L619.93,249.35 L621.21,249.22 L622.4,249.08 L623.52,248.94 L624.57,248.81 L625.56,248.67 L626.5,248.53 L627.41,248.4 L628.29,248.26 L629.15,248.13 L630,248 L630.8,247.87 L631.5,247.75 L632.11,247.64 L632.65,247.52 L633.13,247.41 L633.55,247.3 L633.93,247.18 L634.28,247.07 L634.61,246.95 L634.92,246.83 L635.23,246.71 L635.54,246.58 L635.88,246.45 L636.24,246.31 L636.65,246.16 L637.1,246 L637.59,245.83 L638.08,245.64 L638.58,245.45 L639.09,245.24 L639.61,245.02 L640.12,244.8 L640.65,244.58 L641.17,244.36 L641.7,244.13 L642.23,243.91 L642.77,243.7 L643.3,243.49 L643.83,243.3 L644.35,243.12 L644.88,242.95 L645.4,242.8 L645.91,242.67 L646.41,242.55 L646.91,242.45 L647.39,242.36 L647.88,242.28 L648.36,242.21 L648.84,242.15 L649.33,242.09 L649.83,242.03 L650.33,241.97 L650.85,241.91 L651.38,241.84 L651.93,241.77 L652.5,241.69 L653.09,241.6 L653.7,241.5 L654.35,241.39 L655.02,241.27 L655.73,241.14 L656.46,241.01 L657.21,240.87 L657.97,240.73 L658.74,240.59 L659.53,240.44 L660.31,240.3 L661.09,240.15 L661.86,240 L662.63,239.86 L663.38,239.71 L664.11,239.57 L664.82,239.43 L665.5,239.3 L666.17,239.17 L666.83,239.03 L667.5,238.9 L668.16,238.76 L668.82,238.62 L669.46,238.48 L670.1,238.35 L670.72,238.21 L671.33,238.08 L671.93,237.95 L672.5,237.83 L673.05,237.71 L673.58,237.6 L674.08,237.49 L674.56,237.39 L675,237.3 L675.42,237.21 L675.81,237.12 L676.18,237.03 L676.54,236.94 L676.87,236.85 L677.17,236.76 L677.46,236.68 L677.73,236.61 L677.98,236.55 L678.21,236.5 L678.42,236.46 L678.61,236.43 L678.79,236.42 L678.94,236.43 L679.08,236.45 L679.2,236.5 L679.3,236.57 L679.37,236.66 L679.42,236.76 L679.44,236.89 L679.45,237.03 L679.43,237.18 L679.4,237.35 L679.35,237.53 L679.29,237.71 L679.21,237.9 L679.13,238.1 L679.03,238.3 L678.93,238.5 L678.82,238.7 L678.71,238.9 L678.6,239.1 L678.48,239.3 L678.36,239.51 L678.22,239.72 L678.07,239.95 L677.92,240.17 L677.75,240.41 L677.58,240.64 L677.39,240.88 L677.2,241.12 L677,241.36 L676.79,241.59 L676.57,241.83 L676.34,242.05 L676.1,242.28 L675.86,242.49 L675.6,242.7 L675.34,242.9 L675.08,243.09 L674.83,243.28 L674.56,243.46 L674.29,243.63 L674.02,243.81 L673.73,243.98 L673.43,244.15 L673.12,244.32 L672.78,244.49 L672.43,244.67 L672.06,244.84 L671.66,245.02 L671.24,245.21 L670.78,245.4 L670.3,245.6 L669.78,245.81 L669.23,246.03 L668.64,246.25 L668.03,246.48 L667.39,246.72 L666.73,246.96 L666.05,247.2 L665.36,247.44 L664.65,247.68 L663.93,247.91 L663.21,248.15 L662.48,248.37 L661.75,248.6 L661.03,248.81 L660.31,249.01 L659.6,249.2 L658.9,249.38 L658.22,249.55 L657.54,249.71 L656.87,249.86 L656.2,250.01 L655.52,250.15 L654.84,250.29 L654.14,250.43 L653.44,250.56 L652.71,250.69 L651.97,250.82 L651.2,250.95 L650.4,251.08 L649.57,251.22 L648.7,251.36 L647.8,251.5 L646.85,251.65 L645.85,251.8 L644.81,251.95 L643.73,252.11 L642.62,252.27 L641.49,252.42 L640.33,252.58 L639.16,252.74 L637.99,252.89 L636.81,253.05 L635.63,253.2 L634.46,253.35 L633.31,253.49 L632.18,253.63 L631.07,253.77 L630,253.9 L628.96,254.03 L627.93,254.16 L626.93,254.31 L625.94,254.45 L624.97,254.61 L624,254.79 L623.04,255.01 L622.08,255.33 L621.11,255.79 L620.14,256.5 L619.16,257.54 L618.17,258.96 L617.16,260.75 L616.13,262.8 L615.08,264.86 L614,266.69 L612.92,266.61 L611.85,264.84 L610.79,262.83 L609.73,260.82 L608.67,259.05 L607.6,257.68 L606.51,256.74 L605.41,256.15 L604.27,255.82 L603.1,255.64 L601.89,255.55 L600.63,255.5 L599.32,255.46 L597.95,255.46 L596.51,255.47 L595,255.5 L593.39,255.54 L591.66,255.6 L589.83,255.67 L587.91,255.75 L585.93,255.84 L583.9,255.93 L581.83,256.03 L579.75,256.12 L577.67,256.23 L575.6,256.32 L573.57,256.42 L571.59,256.51 L569.67,256.6 L567.84,256.68 L566.11,256.74 L564.5,256.8 L562.98,256.85 L561.53,256.88 L560.12,256.91 L558.77,256.94 L557.47,256.95 L556.22,256.97 L555,256.98 L553.83,256.99 L552.7,256.99 L551.59,257 L550.52,257.01 L549.47,257.02 L548.45,257.03 L547.45,257.05 L546.47,257.07 L545.5,257.1 L544.55,257.13 L543.64,257.16 L542.76,257.2 L541.91,257.24 L541.08,257.27 L540.29,257.31 L539.52,257.35 L538.78,257.39 L538.07,257.44 L537.38,257.48 L536.71,257.53 L536.07,257.58 L535.44,257.63 L534.84,257.69 L534.26,257.74 L533.7,257.8 L533.17,257.86 L532.68,257.92 L532.23,257.98 L531.81,258.05 L531.42,258.11 L531.06,258.18 L530.72,258.25 L530.39,258.32 L530.07,258.39 L529.76,258.47 L529.45,258.55 L529.14,258.63 L528.83,258.72 L528.5,258.81 L528.16,258.9 L527.8,259 L527.43,259.1 L527.05,259.21 L526.68,259.31 L526.3,259.42 L525.92,259.54 L525.54,259.66 L525.16,259.78 L524.78,259.9 L524.4,260.03 L524.03,260.16 L523.65,260.29 L523.27,260.42 L522.9,260.56 L522.53,260.71 L522.16,260.85 L521.8,261 L521.43,261.16 L521.04,261.33 L520.65,261.52 L520.24,261.71 L519.83,261.91 L519.42,262.11 L519.02,262.32 L518.62,262.53 L518.24,262.73 L517.87,262.92 L517.52,263.1 L517.2,263.28 L516.9,263.44 L516.63,263.58 L516.4,263.7 L516.2,263.8" fill="none" stroke="#828282" stroke-width="0.9" stroke-linejoin="round"/>
<text x="632.2" y="265.2" font-size="11.3" text-anchor="start" font-weight="normal" fill="#000" >AuNDs</text>
<defs><linearGradient id="gAuNPs" x1="0" y1="0" x2="0" y2="1"><stop offset="0" stop-color="#45b4f2" stop-opacity="0.03"/><stop offset="0.5" stop-color="#45b4f2" stop-opacity="0.4"/><stop offset="1" stop-color="#45b4f2" stop-opacity="1"/></linearGradient></defs>
<polygon points="605.77,293.72 606.42,293.88 607.05,294.09 607.68,294.4 608.31,294.8 608.95,295.34 609.6,296.02 610.26,296.87 610.95,297.87 611.66,299.01 612.4,300.24 613.18,301.46 614,302.6 614.7,303.21 614.86,303.21 615.75,301.89 616.66,300.31 617.61,298.54 618.57,296.77 619.55,295.18 620.56,293.88 621.58,292.91 622.61,292.24 623.65,291.78 623.65,291.49 622.61,291.66 621.58,291.84 620.56,292.01 619.55,292.18 618.57,292.35 617.61,292.51 616.66,292.65 615.75,292.79 614.86,292.9 614,293 613.18,293.08 612.4,293.15 611.66,293.21 610.95,293.27 610.26,293.31 609.6,293.34 608.95,293.37 608.31,293.39 607.68,293.41 607.05,293.42 606.42,293.42 605.77,293.42" fill="url(#gAuNPs)"/>
<path d="M516.2,296.7 L516.38,296.59 L516.59,296.45 L516.81,296.29 L517.06,296.11 L517.32,295.92 L517.61,295.71 L517.92,295.49 L518.26,295.26 L518.61,295.03 L518.99,294.8 L519.4,294.56 L519.83,294.33 L520.28,294.11 L520.76,293.89 L521.27,293.69 L521.8,293.5 L522.37,293.32 L522.99,293.13 L523.64,292.95 L524.33,292.76 L525.06,292.58 L525.81,292.4 L526.58,292.22 L527.36,292.04 L528.16,291.87 L528.97,291.71 L529.78,291.55 L530.58,291.4 L531.38,291.26 L532.17,291.13 L532.95,291.01 L533.7,290.9 L534.43,290.8 L535.13,290.72 L535.82,290.65 L536.49,290.59 L537.15,290.54 L537.82,290.5 L538.48,290.47 L539.16,290.44 L539.84,290.41 L540.55,290.39 L541.28,290.36 L542.05,290.34 L542.84,290.31 L543.68,290.28 L544.56,290.24 L545.5,290.2 L546.44,290.15 L547.35,290.11 L548.24,290.06 L549.12,290.01 L550.02,289.96 L550.93,289.91 L551.89,289.86 L552.89,289.81 L553.97,289.76 L555.12,289.71 L556.36,289.66 L557.72,289.61 L559.19,289.56 L560.81,289.51 L562.57,289.45 L564.5,289.4 L566.66,289.35 L569.09,289.3 L571.76,289.25 L574.61,289.21 L577.62,289.17 L580.74,289.12 L583.94,289.08 L587.19,289.03 L590.43,288.98 L593.64,288.93 L596.77,288.87 L599.8,288.81 L602.67,288.74 L605.35,288.67 L607.81,288.59 L610,288.5 L611.97,288.4 L613.81,288.3 L615.51,288.18 L617.1,288.07 L618.57,287.94 L619.93,287.81 L621.21,287.68 L622.4,287.54 L623.52,287.4 L624.57,287.26 L625.56,287.12 L626.5,286.97 L627.41,286.83 L628.29,286.69 L629.15,286.54 L630,286.4 L630.8,286.26 L631.5,286.12 L632.11,285.98 L632.65,285.84 L633.13,285.7 L633.55,285.55 L633.93,285.41 L634.28,285.26 L634.61,285.11 L634.92,284.96 L635.23,284.81 L635.54,284.66 L635.88,284.5 L636.24,284.34 L636.65,284.17 L637.1,284 L637.59,283.82 L638.08,283.63 L638.58,283.44 L639.09,283.23 L639.61,283.02 L640.12,282.81 L640.65,282.6 L641.17,282.38 L641.7,282.17 L642.23,281.96 L642.77,281.76 L643.3,281.56 L643.83,281.38 L644.35,281.21 L644.88,281.05 L645.4,280.9 L645.91,280.77 L646.41,280.66 L646.91,280.55 L647.39,280.46 L647.88,280.38 L648.36,280.31 L648.84,280.24 L649.33,280.17 L649.83,280.11 L650.33,280.05 L650.85,279.99 L651.38,279.93 L651.93,279.86 L652.5,279.78 L653.09,279.69 L653.7,279.6 L654.35,279.5 L655.02,279.39 L655.73,279.29 L656.46,279.18 L657.21,279.07 L657.97,278.95 L658.74,278.84 L659.53,278.72 L660.31,278.6 L661.09,278.48 L661.86,278.35 L662.63,278.22 L663.38,278.1 L664.11,277.97 L664.82,277.83 L665.5,277.7 L666.17,277.56 L666.83,277.42 L667.5,277.27 L668.16,277.11 L668.82,276.95 L669.46,276.79 L670.1,276.63 L670.72,276.47 L671.33,276.31 L671.93,276.15 L672.5,275.99 L673.05,275.84 L673.58,275.7 L674.08,275.56 L674.56,275.42 L675,275.3 L675.42,275.18 L675.81,275.04 L676.19,274.9 L676.54,274.76 L676.88,274.62 L677.19,274.48 L677.48,274.35 L677.75,274.22 L678,274.11 L678.23,274.01 L678.44,273.93 L678.63,273.88 L678.8,273.84 L678.96,273.83 L679.09,273.85 L679.2,273.9 L679.28,273.99 L679.33,274.11 L679.35,274.27 L679.33,274.45 L679.3,274.66 L679.24,274.89 L679.16,275.13 L679.07,275.39 L678.97,275.66 L678.86,275.94 L678.75,276.21 L678.64,276.49 L678.54,276.76 L678.45,277.02 L678.37,277.27 L678.3,277.5 L678.25,277.72 L678.21,277.95 L678.17,278.17 L678.14,278.39 L678.11,278.62 L678.08,278.84 L678.05,279.07 L678.02,279.29 L677.98,279.51 L677.94,279.73 L677.88,279.95 L677.81,280.16 L677.74,280.38 L677.64,280.59 L677.53,280.8 L677.4,281 L677.25,281.2 L677.09,281.4 L676.92,281.6 L676.74,281.8 L676.55,281.99 L676.35,282.19 L676.14,282.38 L675.91,282.57 L675.68,282.76 L675.44,282.94 L675.19,283.12 L674.92,283.3 L674.66,283.48 L674.38,283.66 L674.09,283.83 L673.8,284 L673.5,284.17 L673.19,284.33 L672.87,284.5 L672.54,284.66 L672.21,284.82 L671.86,284.97 L671.51,285.13 L671.14,285.28 L670.77,285.43 L670.39,285.58 L670,285.72 L669.6,285.86 L669.19,286 L668.77,286.14 L668.34,286.27 L667.9,286.4 L667.45,286.53 L667,286.65 L666.54,286.76 L666.08,286.88 L665.6,286.99 L665.12,287.1 L664.62,287.2 L664.12,287.31 L663.6,287.41 L663.07,287.51 L662.53,287.61 L661.98,287.71 L661.41,287.8 L660.82,287.9 L660.22,288 L659.6,288.1 L658.97,288.2 L658.33,288.3 L657.69,288.4 L657.04,288.5 L656.37,288.6 L655.7,288.7 L655,288.8 L654.29,288.89 L653.57,288.99 L652.82,289.08 L652.05,289.17 L651.25,289.26 L650.43,289.35 L649.59,289.44 L648.71,289.52 L647.8,289.6 L646.85,289.67 L645.85,289.74 L644.81,289.8 L643.73,289.85 L642.62,289.9 L641.49,289.95 L640.33,290 L639.16,290.04 L637.99,290.09 L636.81,290.14 L635.63,290.2 L634.46,290.26 L633.31,290.33 L632.18,290.41 L631.07,290.5 L630,290.6 L628.94,290.72 L627.88,290.87 L626.82,291.03 L625.76,291.22 L624.7,291.46 L623.65,291.78 L622.61,292.24 L621.58,292.91 L620.56,293.88 L619.55,295.18 L618.57,296.77 L617.61,298.54 L616.66,300.31 L615.75,301.89 L614.86,303.21 L614,302.6 L613.18,301.46 L612.4,300.24 L611.66,299.01 L610.95,297.87 L610.26,296.87 L609.6,296.02 L608.95,295.34 L608.31,294.8 L607.68,294.4 L607.05,294.09 L606.42,293.88 L605.77,293.72 L605.11,293.61 L604.44,293.54 L603.73,293.49 L603,293.45 L602.27,293.42 L601.56,293.38 L600.86,293.32 L600.18,293.25 L599.5,293.19 L598.82,293.13 L598.12,293.06 L597.41,292.99 L596.66,292.92 L595.88,292.86 L595.05,292.8 L594.18,292.75 L593.24,292.72 L592.24,292.69 L591.16,292.69 L590,292.7 L588.74,292.73 L587.37,292.78 L585.9,292.85 L584.35,292.93 L582.74,293.02 L581.07,293.12 L579.36,293.23 L577.62,293.34 L575.88,293.46 L574.14,293.57 L572.41,293.68 L570.71,293.79 L569.06,293.88 L567.46,293.97 L565.94,294.04 L564.5,294.1 L563.12,294.14 L561.76,294.18 L560.43,294.2 L559.12,294.22 L557.84,294.23 L556.58,294.24 L555.35,294.24 L554.14,294.24 L552.96,294.24 L551.81,294.24 L550.69,294.24 L549.59,294.24 L548.52,294.25 L547.49,294.26 L546.48,294.28 L545.5,294.3 L544.56,294.33 L543.68,294.36 L542.84,294.4 L542.05,294.44 L541.28,294.48 L540.55,294.52 L539.84,294.57 L539.16,294.61 L538.48,294.66 L537.82,294.71 L537.15,294.76 L536.49,294.81 L535.82,294.86 L535.13,294.9 L534.43,294.95 L533.7,295 L532.95,295.05 L532.17,295.09 L531.38,295.14 L530.58,295.19 L529.78,295.24 L528.97,295.29 L528.16,295.34 L527.36,295.39 L526.58,295.44 L525.81,295.49 L525.06,295.54 L524.33,295.59 L523.64,295.64 L522.99,295.69 L522.37,295.75 L521.8,295.8 L521.27,295.86 L520.76,295.91 L520.28,295.98 L519.83,296.04 L519.4,296.1 L518.99,296.17 L518.61,296.24 L518.26,296.3 L517.92,296.36 L517.61,296.42 L517.32,296.48 L517.06,296.54 L516.81,296.59 L516.59,296.63 L516.38,296.67 L516.2,296.7" fill="none" stroke="#45b4f2" stroke-width="0.9" stroke-linejoin="round"/>
<text x="632.2" y="302.4" font-size="11.3" text-anchor="start" font-weight="normal" fill="#000" >AuNPs</text>
<defs><linearGradient id="gAuCPs" x1="0" y1="0" x2="0" y2="1"><stop offset="0" stop-color="#1c1c9e" stop-opacity="0.03"/><stop offset="0.5" stop-color="#1c1c9e" stop-opacity="0.4"/><stop offset="1" stop-color="#1c1c9e" stop-opacity="1"/></linearGradient></defs>
<polygon points="607.46,329.69 608.29,329.97 609.12,330.39 609.97,330.96 610.83,331.68 611.7,332.54 612.56,333.51 613.43,334.51 614.29,335.49 615.15,336.37 616,337.13 616.3,337.13 616.84,336.85 617.68,335.95 618.51,334.94 619.34,333.86 620.17,332.76 621.01,331.71 621.85,330.75 622.7,329.91 623.56,329.21 624.43,328.66 624.43,327.63 623.56,327.69 622.7,327.74 621.85,327.8 621.01,327.86 620.17,327.91 619.34,327.97 618.51,328.02 617.68,328.08 616.84,328.14 616,328.2 615.15,328.27 614.29,328.34 613.43,328.41 612.56,328.49 611.7,328.57 610.83,328.65 609.97,328.73 609.12,328.81 608.29,328.88 607.46,328.95" fill="url(#gAuCPs)"/>
<path d="M516.2,334.4 L516.4,334.26 L516.63,334.08 L516.9,333.88 L517.2,333.65 L517.52,333.4 L517.87,333.13 L518.24,332.85 L518.62,332.56 L519.02,332.26 L519.42,331.97 L519.83,331.69 L520.24,331.41 L520.65,331.15 L521.04,330.91 L521.43,330.69 L521.8,330.5 L522.16,330.33 L522.53,330.18 L522.9,330.03 L523.27,329.9 L523.65,329.77 L524.03,329.66 L524.4,329.55 L524.78,329.45 L525.16,329.36 L525.54,329.27 L525.92,329.18 L526.3,329.1 L526.68,329.03 L527.05,328.95 L527.43,328.87 L527.8,328.8 L528.16,328.73 L528.5,328.67 L528.83,328.61 L529.14,328.56 L529.45,328.51 L529.76,328.47 L530.07,328.43 L530.39,328.39 L530.72,328.36 L531.06,328.33 L531.42,328.29 L531.81,328.26 L532.23,328.22 L532.68,328.19 L533.17,328.14 L533.7,328.1 L534.26,328.05 L534.84,328.01 L535.44,327.96 L536.07,327.92 L536.71,327.87 L537.38,327.82 L538.07,327.78 L538.78,327.73 L539.52,327.68 L540.29,327.63 L541.08,327.58 L541.91,327.53 L542.76,327.48 L543.64,327.42 L544.55,327.36 L545.5,327.3 L546.44,327.24 L547.35,327.17 L548.24,327.1 L549.12,327.03 L550.02,326.96 L550.93,326.89 L551.89,326.81 L552.89,326.74 L553.97,326.66 L555.12,326.58 L556.36,326.5 L557.72,326.42 L559.19,326.34 L560.81,326.26 L562.57,326.18 L564.5,326.1 L566.66,326.02 L569.09,325.94 L571.76,325.85 L574.61,325.77 L577.62,325.68 L580.74,325.6 L583.94,325.51 L587.19,325.42 L590.43,325.34 L593.64,325.25 L596.77,325.16 L599.8,325.07 L602.67,324.98 L605.35,324.89 L607.81,324.79 L610,324.7 L611.97,324.61 L613.81,324.51 L615.51,324.41 L617.1,324.32 L618.57,324.22 L619.93,324.12 L621.21,324.02 L622.4,323.92 L623.52,323.82 L624.57,323.72 L625.56,323.61 L626.5,323.51 L627.41,323.41 L628.29,323.31 L629.15,323.2 L630,323.1 L630.8,323 L631.5,322.9 L632.12,322.8 L632.67,322.7 L633.15,322.6 L633.58,322.5 L633.97,322.4 L634.32,322.29 L634.65,322.19 L634.96,322.09 L635.27,321.98 L635.59,321.87 L635.92,321.76 L636.27,321.64 L636.66,321.52 L637.1,321.4 L637.57,321.27 L638.07,321.12 L638.57,320.97 L639.09,320.81 L639.62,320.64 L640.15,320.48 L640.68,320.31 L641.21,320.14 L641.72,319.97 L642.23,319.81 L642.72,319.66 L643.19,319.52 L643.64,319.39 L644.06,319.28 L644.45,319.18 L644.8,319.1 L645.11,319.04 L645.39,318.99 L645.63,318.96 L645.84,318.94 L646.03,318.93 L646.19,318.93 L646.35,318.93 L646.49,318.95 L646.62,318.97 L646.76,319 L646.89,319.03 L647.04,319.06 L647.2,319.1 L647.38,319.13 L647.57,319.17 L647.8,319.2 L648.05,319.24 L648.31,319.28 L648.57,319.34 L648.85,319.4 L649.14,319.47 L649.43,319.54 L649.73,319.61 L650.04,319.69 L650.35,319.76 L650.66,319.83 L650.97,319.9 L651.28,319.95 L651.59,320.01 L651.9,320.05 L652.2,320.08 L652.5,320.1 L652.79,320.11 L653.07,320.11 L653.35,320.11 L653.61,320.1 L653.88,320.09 L654.14,320.07 L654.41,320.05 L654.68,320.02 L654.96,319.98 L655.25,319.94 L655.55,319.9 L655.86,319.85 L656.19,319.79 L656.54,319.73 L656.91,319.67 L657.3,319.6 L657.72,319.52 L658.15,319.44 L658.61,319.35 L659.08,319.26 L659.57,319.15 L660.07,319.05 L660.58,318.93 L661.11,318.82 L661.64,318.7 L662.18,318.58 L662.73,318.45 L663.28,318.32 L663.83,318.19 L664.39,318.06 L664.95,317.93 L665.5,317.8 L666.07,317.66 L666.66,317.52 L667.28,317.37 L667.91,317.21 L668.55,317.05 L669.2,316.89 L669.85,316.72 L670.5,316.56 L671.14,316.39 L671.77,316.23 L672.38,316.07 L672.97,315.92 L673.53,315.78 L674.06,315.64 L674.55,315.52 L675,315.4 L675.42,315.29 L675.82,315.18 L676.19,315.06 L676.55,314.95 L676.89,314.85 L677.2,314.74 L677.5,314.65 L677.77,314.56 L678.02,314.48 L678.25,314.41 L678.46,314.35 L678.65,314.31 L678.82,314.28 L678.97,314.27 L679.1,314.27 L679.2,314.3 L679.28,314.35 L679.32,314.42 L679.33,314.51 L679.32,314.62 L679.28,314.74 L679.22,314.88 L679.15,315.03 L679.05,315.19 L678.94,315.36 L678.82,315.54 L678.69,315.72 L678.55,315.9 L678.41,316.08 L678.27,316.26 L678.13,316.43 L678,316.6 L677.87,316.77 L677.72,316.95 L677.57,317.13 L677.42,317.31 L677.25,317.51 L677.08,317.7 L676.9,317.9 L676.72,318.09 L676.53,318.29 L676.33,318.49 L676.12,318.68 L675.91,318.88 L675.69,319.06 L675.47,319.25 L675.24,319.43 L675,319.6 L674.76,319.77 L674.53,319.93 L674.31,320.09 L674.09,320.25 L673.86,320.4 L673.63,320.56 L673.38,320.71 L673.13,320.86 L672.86,321 L672.58,321.15 L672.27,321.29 L671.94,321.44 L671.58,321.58 L671.19,321.72 L670.76,321.86 L670.3,322 L669.8,322.14 L669.26,322.28 L668.68,322.42 L668.07,322.56 L667.44,322.7 L666.78,322.84 L666.09,322.98 L665.39,323.11 L664.68,323.25 L663.96,323.38 L663.23,323.51 L662.49,323.63 L661.76,323.75 L661.03,323.87 L660.31,323.99 L659.6,324.1 L658.9,324.21 L658.22,324.31 L657.54,324.4 L656.87,324.49 L656.2,324.58 L655.52,324.66 L654.84,324.74 L654.14,324.83 L653.44,324.9 L652.71,324.98 L651.97,325.06 L651.2,325.15 L650.4,325.23 L649.57,325.32 L648.7,325.41 L647.8,325.5 L646.85,325.6 L645.84,325.7 L644.78,325.81 L643.68,325.92 L642.55,326.03 L641.4,326.15 L640.22,326.26 L639.04,326.38 L637.85,326.49 L636.66,326.6 L635.48,326.71 L634.32,326.82 L633.19,326.92 L632.08,327.02 L631.02,327.11 L630,327.26 L629.02,327.37 L628.06,327.51 L627.13,327.69 L626.21,327.92 L625.31,328.24 L624.43,328.66 L623.56,329.21 L622.7,329.91 L621.85,330.75 L621.01,331.71 L620.17,332.76 L619.34,333.86 L618.51,334.94 L617.68,335.95 L616.84,336.85 L616,337.13 L615.15,336.37 L614.29,335.49 L613.43,334.51 L612.56,333.51 L611.7,332.54 L610.83,331.68 L609.97,330.96 L609.12,330.39 L608.29,329.97 L607.46,329.69 L606.66,329.5 L605.88,329.39 L605.11,329.33 L604.38,329.3 L603.67,329.28 L603,329.27 L602.4,329.25 L601.91,329.18 L601.51,329.14 L601.18,329.08 L600.89,329.02 L600.62,328.95 L600.37,328.87 L600.09,328.79 L599.79,328.72 L599.43,328.65 L598.99,328.58 L598.46,328.53 L597.82,328.49 L597.04,328.47 L596.11,328.48 L595,328.5 L593.69,328.55 L592.19,328.62 L590.51,328.71 L588.69,328.82 L586.74,328.94 L584.71,329.07 L582.59,329.22 L580.44,329.36 L578.26,329.51 L576.08,329.66 L573.94,329.81 L571.84,329.95 L569.83,330.08 L567.92,330.2 L566.13,330.31 L564.5,330.4 L562.99,330.48 L561.57,330.55 L560.21,330.61 L558.91,330.66 L557.67,330.71 L556.48,330.75 L555.32,330.79 L554.2,330.83 L553.1,330.87 L552.02,330.9 L550.96,330.93 L549.89,330.96 L548.82,330.99 L547.73,331.03 L546.63,331.06 L545.5,331.1 L544.34,331.14 L543.15,331.18 L541.93,331.21 L540.71,331.25 L539.48,331.28 L538.25,331.32 L537.04,331.35 L535.84,331.39 L534.66,331.42 L533.52,331.46 L532.42,331.49 L531.37,331.53 L530.38,331.57 L529.44,331.61 L528.58,331.65 L527.8,331.7 L527.1,331.75 L526.49,331.79 L525.95,331.84 L525.47,331.88 L525.05,331.93 L524.68,331.98 L524.34,332.02 L524.04,332.07 L523.77,332.13 L523.51,332.18 L523.25,332.24 L523,332.3 L522.73,332.37 L522.45,332.44 L522.14,332.52 L521.8,332.6 L521.43,332.69 L521.04,332.79 L520.65,332.91 L520.24,333.03 L519.83,333.16 L519.42,333.29 L519.02,333.42 L518.62,333.56 L518.24,333.69 L517.87,333.82 L517.52,333.94 L517.2,334.06 L516.9,334.16 L516.63,334.25 L516.4,334.34 L516.2,334.4" fill="none" stroke="#1c1c9e" stroke-width="0.9" stroke-linejoin="round"/>
<text x="632.2" y="338.5" font-size="11.3" text-anchor="start" font-weight="normal" fill="#000" >AuCPs</text>
</svg>
</body></html>
